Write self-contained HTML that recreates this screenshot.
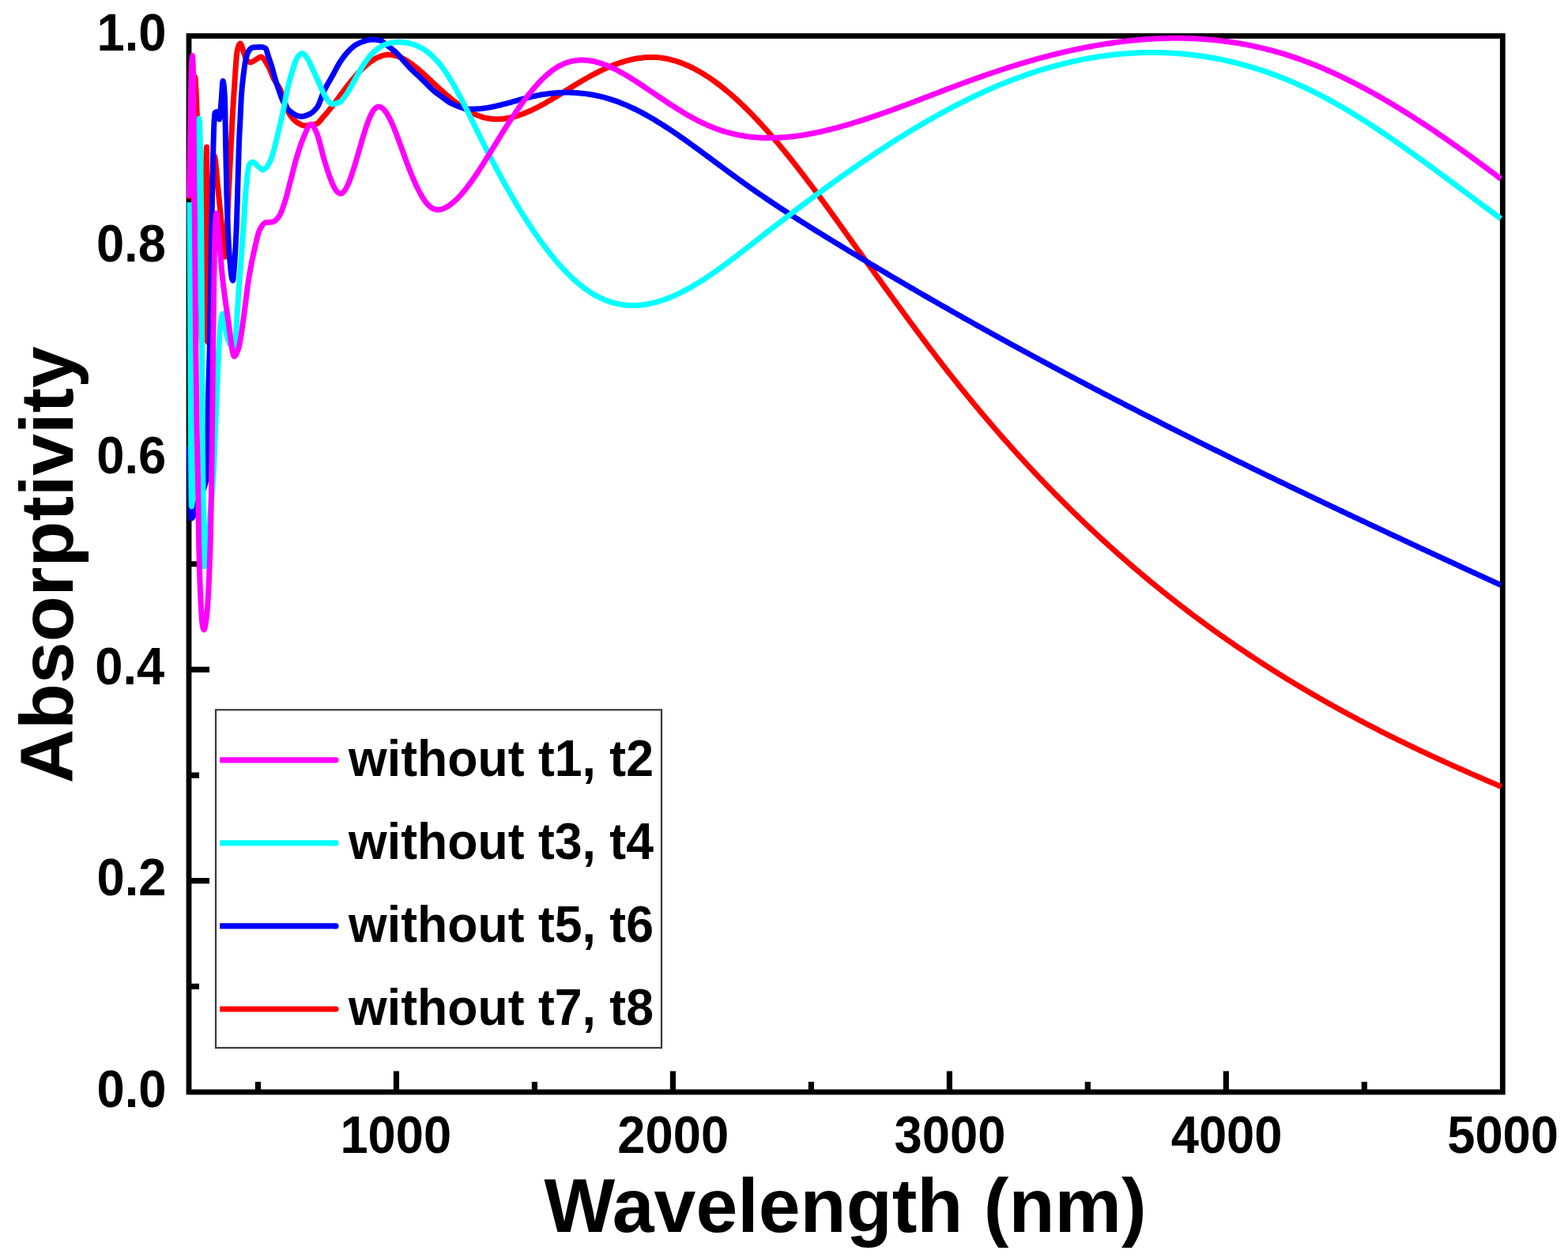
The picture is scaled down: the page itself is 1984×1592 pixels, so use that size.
<!DOCTYPE html>
<html><head><meta charset="utf-8"><title>Absorptivity vs Wavelength</title>
<style>html,body{margin:0;padding:0;background:#fff;}body{width:1984px;height:1592px;overflow:hidden;position:relative;}svg{position:absolute;left:0;top:0;display:block;}</style>
</head><body>
<svg width="1984" height="1592" viewBox="0 0 1984 1592">
<rect width="1984" height="1592" fill="#fff"/>
<rect x="239.0" y="45.5" width="1662.3" height="1336.5" fill="none" stroke="#000" stroke-width="6.8"/>
<path d="M326.49,1382.0V1369.0M501.47,1382.0V1355.5M676.45,1382.0V1369.0M851.43,1382.0V1355.5M1026.41,1382.0V1369.0M1201.38,1382.0V1355.5M1376.36,1382.0V1369.0M1551.34,1382.0V1355.5M1726.32,1382.0V1369.0M239.0,1248.35H252.0M239.0,1114.70H265.0M239.0,981.05H252.0M239.0,847.40H265.0M239.0,713.75H252.0M239.0,580.10H265.0M239.0,446.45H249.0M239.0,312.80H265.0M239.0,179.15H249.0" stroke="#000" stroke-width="7.2" fill="none"/>
<path d="M240.50,252.00C241.33,218.00 242.17,168.89 243.00,150.00C244.17,123.56 245.33,97.00 246.50,97.00C247.50,97.00 248.50,125.24 249.50,150.00C250.67,178.88 251.83,243.89 253.00,300.00C253.83,340.08 254.67,435.00 255.50,435.00C256.33,435.00 257.17,408.34 258.00,380.00C258.60,359.59 259.20,291.54 259.80,260.00C260.37,230.21 260.93,186.00 261.50,186.00C261.80,186.00 262.10,250.74 262.40,300.00C262.60,332.84 262.80,433.00 263.00,433.00C264.17,433.00 265.33,333.68 266.50,300.00C268.00,256.70 269.50,197.00 271.00,197.00C272.67,197.00 274.33,224.59 276.00,240.00C277.67,255.41 279.33,274.48 281.00,290.00C282.33,302.41 283.67,325.00 285.00,325.00C286.33,325.00 287.67,275.85 289.00,250.00C290.00,230.62 291.00,210.00 292.00,190.00C292.67,176.67 293.33,161.85 294.00,150.00C294.67,138.15 295.33,128.32 296.00,118.00C296.67,107.68 297.33,96.68 298.00,88.00C298.67,79.32 299.33,67.95 300.00,65.00C301.33,59.10 302.67,55.00 304.00,55.00C305.33,55.00 306.67,61.51 308.00,65.00C309.33,68.49 310.67,74.65 312.00,76.00C313.67,77.68 315.33,79.00 317.00,79.00C319.00,79.00 321.00,77.06 323.00,76.00C325.33,74.76 327.67,72.00 330.00,72.00C333.33,72.00 336.67,79.34 340.00,85.00C342.17,88.68 344.33,95.84 346.50,100.00C349.17,105.12 351.83,107.48 354.50,113.00C356.33,116.79 358.17,123.06 360.00,128.00C362.00,133.39 364.00,140.77 366.00,144.00C369.33,149.38 372.67,152.91 376.00,155.00C379.00,156.89 382.00,159.00 385.00,159.00C390.07,159.00 395.13,158.21 400.20,156.90C403.47,156.06 406.73,150.35 410.00,146.81C411.00,145.72 412.00,144.59 413.00,143.43C414.00,142.28 415.00,141.08 416.00,139.86C417.00,138.64 418.00,137.38 419.00,136.11C420.00,134.84 421.00,133.54 422.00,132.23C423.00,130.92 424.00,129.59 425.00,128.26C426.00,126.92 427.00,125.57 428.00,124.22C429.00,122.87 430.00,121.51 431.00,120.16C432.00,118.81 433.00,117.45 434.00,116.11C435.00,114.76 436.00,113.42 437.00,112.10C438.00,110.78 439.00,109.46 440.00,108.17C441.00,106.88 442.00,105.61 443.00,104.36C444.00,103.11 445.00,101.88 446.00,100.67C447.00,99.47 448.00,98.29 449.00,97.14C450.00,95.98 451.00,94.85 452.00,93.75C453.00,92.65 454.00,91.58 455.00,90.54C456.00,89.49 457.00,88.48 458.00,87.50C459.00,86.52 460.00,85.57 461.00,84.65C462.00,83.74 463.00,82.85 464.00,82.01C465.00,81.16 466.00,80.35 467.00,79.58C468.00,78.81 469.00,78.07 470.00,77.38C471.00,76.68 472.00,76.02 473.00,75.41C474.00,74.80 475.00,74.22 476.00,73.70C477.00,73.17 478.00,72.68 479.00,72.25C480.00,71.81 481.00,71.41 482.00,71.07C483.00,70.73 484.00,70.41 485.00,70.18C486.00,69.94 487.00,69.71 488.00,69.58C489.00,69.45 490.00,69.30 491.00,69.30C492.00,69.30 493.00,69.31 494.00,69.33C495.00,69.35 496.00,69.52 497.00,69.66C498.00,69.81 499.00,70.04 500.00,70.28C501.00,70.53 502.00,70.84 503.00,71.17C504.00,71.50 505.00,71.89 506.00,72.31C507.00,72.72 508.00,73.19 509.00,73.68C510.00,74.17 511.00,74.71 512.00,75.27C513.00,75.83 514.00,76.43 515.00,77.05C516.00,77.67 517.00,78.33 518.00,79.02C519.00,79.70 520.00,80.41 521.00,81.14C522.00,81.87 523.00,82.64 524.00,83.42C525.00,84.19 526.00,85.00 527.00,85.82C528.00,86.63 529.00,87.47 530.00,88.33C531.00,89.18 532.00,90.05 533.00,90.93C534.00,91.81 535.00,92.71 536.00,93.61C537.00,94.51 538.00,95.43 539.00,96.34C540.00,97.26 541.00,98.19 542.00,99.12C543.00,100.05 544.00,100.99 545.00,101.92C546.00,102.85 547.00,103.79 548.00,104.72C549.00,105.66 550.00,106.59 551.00,107.52C552.00,108.44 553.00,109.36 554.00,110.28C555.00,111.20 556.00,112.11 557.00,113.01C558.00,113.91 559.00,114.81 560.00,115.70C561.00,116.59 562.00,117.47 563.00,118.34C564.00,119.21 565.00,120.08 566.00,120.93C567.00,121.78 568.00,122.62 569.00,123.45C570.00,124.28 571.00,125.10 572.00,125.91C573.00,126.71 574.00,127.51 575.00,128.29C576.00,129.07 577.00,129.83 578.00,130.58C579.00,131.33 580.00,132.07 581.00,132.79C582.00,133.51 583.00,134.21 584.00,134.90C585.00,135.58 586.00,136.25 587.00,136.90C588.00,137.55 589.00,138.18 590.00,138.79C591.00,139.40 592.00,140.00 593.00,140.57C594.00,141.14 595.00,141.69 596.00,142.22C597.00,142.74 598.00,143.25 599.00,143.74C600.00,144.22 601.00,144.68 602.00,145.11C603.00,145.55 604.00,145.96 605.00,146.34C606.00,146.73 607.00,147.09 608.00,147.42C609.00,147.75 610.00,148.06 611.00,148.34C612.00,148.62 613.00,148.88 614.00,149.11C615.00,149.34 616.00,149.55 617.00,149.73C618.00,149.90 619.00,150.07 620.00,150.20C621.00,150.33 622.00,150.45 623.00,150.53C624.00,150.61 625.00,150.69 626.00,150.72C627.00,150.75 628.00,150.78 629.00,150.78C630.00,150.78 631.00,150.75 632.00,150.71C633.00,150.68 634.00,150.60 635.00,150.52C636.00,150.44 637.00,150.33 638.00,150.21C639.00,150.09 640.00,149.94 641.00,149.79C642.00,149.63 643.00,149.44 644.00,149.25C645.00,149.06 646.00,148.84 647.00,148.61C648.00,148.38 649.00,148.13 650.00,147.87C651.00,147.60 652.00,147.32 653.00,147.03C654.00,146.73 655.00,146.42 656.00,146.09C657.00,145.77 658.00,145.43 659.00,145.07C660.00,144.72 661.00,144.35 662.00,143.97C663.00,143.59 664.00,143.19 665.00,142.78C666.00,142.37 667.00,141.95 668.00,141.52C669.00,141.09 670.00,140.65 671.00,140.19C672.00,139.74 673.00,139.27 674.00,138.79C675.00,138.32 676.00,137.83 677.00,137.34C678.00,136.84 679.00,136.33 680.00,135.82C681.00,135.31 682.00,134.78 683.00,134.25C684.00,133.72 685.00,133.18 686.00,132.63C687.00,132.09 688.00,131.53 689.00,130.97C690.00,130.41 691.00,129.84 692.00,129.27C693.00,128.69 694.00,128.11 695.00,127.53C696.00,126.94 697.00,126.35 698.00,125.76C699.00,125.17 700.00,124.57 701.00,123.96C702.00,123.36 703.00,122.75 704.00,122.15C705.00,121.54 706.00,120.92 707.00,120.31C708.00,119.70 709.00,119.08 710.00,118.46C711.00,117.84 712.00,117.22 713.00,116.60C714.00,115.98 715.00,115.36 716.00,114.74C717.00,114.12 718.00,113.49 719.00,112.87C720.00,112.25 721.00,111.63 722.00,111.01C723.00,110.40 724.00,109.78 725.00,109.16C726.00,108.55 727.00,107.93 728.00,107.32C729.00,106.71 730.00,106.11 731.00,105.50C732.00,104.90 733.00,104.30 734.00,103.70C735.00,103.11 736.00,102.52 737.00,101.93C738.00,101.35 739.00,100.76 740.00,100.19C741.00,99.61 742.00,99.04 743.00,98.48C744.00,97.92 745.00,97.36 746.00,96.81C747.00,96.26 748.00,95.71 749.00,95.18C750.00,94.64 751.00,94.11 752.00,93.58C753.00,93.06 754.00,92.54 755.00,92.03C756.00,91.52 757.00,91.02 758.00,90.53C759.00,90.03 760.00,89.55 761.00,89.07C762.00,88.59 763.00,88.12 764.00,87.66C765.00,87.20 766.00,86.74 767.00,86.30C768.00,85.85 769.00,85.41 770.00,84.99C771.00,84.56 772.00,84.14 773.00,83.73C774.00,83.32 775.00,82.92 776.00,82.53C777.00,82.14 778.00,81.76 779.00,81.39C780.00,81.02 781.00,80.66 782.00,80.31C783.00,79.96 784.00,79.62 785.00,79.29C786.00,78.96 787.00,78.64 788.00,78.33C789.00,78.02 790.00,77.72 791.00,77.43C792.00,77.15 793.00,76.87 794.00,76.61C795.00,76.34 796.00,76.09 797.00,75.85C798.00,75.61 799.00,75.38 800.00,75.16C801.00,74.95 802.00,74.74 803.00,74.55C804.00,74.36 805.00,74.18 806.00,74.01C807.00,73.84 808.00,73.69 809.00,73.55C810.00,73.41 811.00,73.27 812.00,73.16C813.00,73.05 814.00,72.94 815.00,72.86C816.00,72.77 817.00,72.69 818.00,72.63C819.00,72.58 820.00,72.52 821.00,72.50C822.00,72.47 823.00,72.44 824.00,72.44C825.00,72.44 826.00,72.46 827.00,72.48C828.00,72.50 829.00,72.55 830.00,72.60C831.00,72.65 832.00,72.73 833.00,72.82C834.00,72.90 835.00,73.01 836.00,73.13C837.00,73.24 838.00,73.38 839.00,73.53C840.00,73.68 841.00,73.85 842.00,74.02C843.00,74.20 844.00,74.40 845.00,74.61C846.00,74.82 847.00,75.05 848.00,75.29C849.00,75.53 850.00,75.78 851.00,76.05C852.00,76.32 853.00,76.61 854.00,76.91C855.00,77.20 856.00,77.52 857.00,77.84C858.00,78.17 859.00,78.51 860.00,78.87C861.00,79.22 862.00,79.59 863.00,79.98C864.00,80.36 865.00,80.76 866.00,81.17C867.00,81.58 868.00,82.00 869.00,82.44C870.00,82.88 871.00,83.33 872.00,83.79C873.00,84.26 874.00,84.74 875.00,85.23C876.00,85.72 877.00,86.22 878.00,86.74C879.00,87.25 880.00,87.78 881.00,88.32C882.00,88.87 883.00,89.42 884.00,89.99C885.00,90.55 886.00,91.13 887.00,91.72C888.00,92.32 889.00,92.92 890.00,93.53C891.00,94.15 892.00,94.78 893.00,95.42C894.00,96.06 895.00,96.71 896.00,97.37C897.00,98.03 898.00,98.71 899.00,99.39C900.00,100.08 901.00,100.78 902.00,101.48C903.00,102.19 904.00,102.91 905.00,103.64C906.00,104.37 907.00,105.11 908.00,105.87C909.00,106.62 910.00,107.38 911.00,108.15C912.00,108.93 913.00,109.71 914.00,110.51C915.00,111.30 916.00,112.11 917.00,112.92C918.00,113.74 919.00,114.56 920.00,115.40C921.00,116.24 922.00,117.08 923.00,117.94C924.00,118.79 925.00,119.66 926.00,120.53C927.00,121.41 928.00,122.30 929.00,123.19C930.00,124.08 931.00,124.99 932.00,125.90C933.00,126.82 934.00,127.74 935.00,128.67C936.00,129.61 937.00,130.55 938.00,131.50C939.00,132.45 940.00,133.41 941.00,134.38C942.00,135.35 943.00,136.32 944.00,137.31C945.00,138.30 946.00,139.29 947.00,140.29C948.00,141.30 949.00,142.31 950.00,143.33C951.00,144.35 952.00,145.38 953.00,146.42C954.00,147.45 955.00,148.50 956.00,149.55C957.00,150.60 958.00,151.66 959.00,152.73C960.00,153.80 961.00,154.88 962.00,155.96C963.00,157.05 964.00,158.14 965.00,159.24C966.00,160.34 967.00,161.44 968.00,162.56C969.00,163.67 970.00,164.79 971.00,165.92C972.00,167.05 973.00,168.19 974.00,169.33C975.00,170.47 976.00,171.62 977.00,172.78C978.00,173.93 979.00,175.10 980.00,176.27C981.00,177.44 982.00,178.61 983.00,179.80C984.00,180.98 985.00,182.17 986.00,183.36C987.00,184.56 988.00,185.76 989.00,186.97C990.00,188.18 991.00,189.39 992.00,190.61C993.00,191.83 994.00,193.05 995.00,194.29C996.00,195.52 997.00,196.75 998.00,198.00C999.00,199.24 1000.00,200.49 1001.00,201.74C1002.00,202.99 1003.00,204.25 1004.00,205.52C1005.00,206.78 1006.00,208.05 1007.00,209.32C1008.00,210.60 1009.00,211.88 1010.00,213.16C1011.00,214.45 1012.00,215.73 1013.00,217.03C1014.00,218.32 1015.00,219.62 1016.00,220.92C1017.00,222.22 1018.00,223.53 1019.00,224.84C1020.00,226.15 1021.00,227.47 1022.00,228.79C1023.00,230.11 1024.00,231.43 1025.00,232.76C1026.00,234.09 1027.00,235.42 1028.00,236.76C1029.00,238.09 1030.00,239.43 1031.00,240.78C1032.00,242.12 1033.00,243.47 1034.00,244.82C1035.00,246.17 1036.00,247.52 1037.00,248.88C1038.00,250.23 1039.00,251.60 1040.00,252.96C1041.00,254.32 1042.00,255.69 1043.00,257.06C1044.00,258.43 1045.00,259.80 1046.00,261.17C1047.00,262.55 1048.00,263.93 1049.00,265.31C1050.00,266.69 1051.00,268.07 1052.00,269.45C1053.00,270.84 1054.00,272.23 1055.00,273.61C1056.00,275.00 1057.00,276.39 1058.00,277.79C1059.00,279.18 1060.00,280.57 1061.00,281.97C1062.00,283.36 1063.00,284.76 1064.00,286.15C1065.00,287.55 1066.00,288.95 1067.00,290.35C1068.00,291.74 1069.00,293.14 1070.00,294.54C1071.00,295.94 1072.00,297.34 1073.00,298.74C1074.00,300.13 1075.00,301.53 1076.00,302.93C1077.00,304.33 1078.00,305.73 1079.00,307.12C1080.00,308.52 1081.00,309.91 1082.00,311.31C1083.00,312.70 1084.00,314.09 1085.00,315.49C1086.00,316.88 1087.00,318.27 1088.00,319.66C1089.00,321.05 1090.00,322.44 1091.00,323.83C1092.00,325.22 1093.00,326.60 1094.00,327.99C1095.00,329.38 1096.00,330.77 1097.00,332.15C1098.00,333.54 1099.00,334.93 1100.00,336.31C1101.00,337.70 1102.00,339.08 1103.00,340.47C1104.00,341.85 1105.00,343.24 1106.00,344.62C1107.00,346.00 1108.00,347.39 1109.00,348.77C1110.00,350.16 1111.00,351.54 1112.00,352.92C1113.00,354.31 1114.00,355.69 1115.00,357.07C1116.00,358.45 1117.00,359.83 1118.00,361.22C1119.00,362.60 1120.00,363.98 1121.00,365.36C1122.00,366.74 1123.00,368.12 1124.00,369.50C1125.00,370.87 1126.00,372.25 1127.00,373.63C1128.00,375.01 1129.00,376.38 1130.00,377.76C1131.00,379.13 1132.00,380.51 1133.00,381.88C1134.00,383.25 1135.00,384.62 1136.00,385.99C1137.00,387.36 1138.00,388.73 1139.00,390.10C1140.00,391.47 1141.00,392.84 1142.00,394.20C1143.00,395.57 1144.00,396.93 1145.00,398.29C1146.00,399.65 1147.00,401.01 1148.00,402.37C1149.00,403.73 1150.00,405.09 1151.00,406.45C1152.00,407.80 1153.00,409.15 1154.00,410.51C1155.00,411.86 1156.00,413.21 1157.00,414.56C1158.00,415.91 1159.00,417.25 1160.00,418.60C1161.00,419.94 1162.00,421.28 1163.00,422.62C1164.00,423.96 1165.00,425.30 1166.00,426.63C1167.00,427.97 1168.00,429.30 1169.00,430.63C1170.00,431.96 1171.00,433.29 1172.00,434.62C1173.00,435.94 1174.00,437.27 1175.00,438.59C1176.00,439.91 1177.00,441.23 1178.00,442.54C1179.00,443.86 1180.00,445.17 1181.00,446.48C1182.00,447.79 1183.00,449.10 1184.00,450.40C1185.00,451.71 1186.00,453.01 1187.00,454.31C1188.00,455.60 1189.00,456.90 1190.00,458.19C1191.00,459.48 1192.00,460.77 1193.00,462.06C1194.00,463.34 1195.00,464.63 1196.00,465.91C1197.00,467.18 1198.00,468.46 1199.00,469.73C1200.00,471.01 1201.00,472.28 1202.00,473.55C1203.00,474.81 1204.00,476.08 1205.00,477.34C1206.00,478.60 1207.00,479.86 1208.00,481.11C1209.00,482.37 1210.00,483.62 1211.00,484.87C1212.00,486.12 1213.00,487.36 1214.00,488.61C1215.00,489.85 1216.00,491.09 1217.00,492.33C1218.00,493.56 1219.00,494.80 1220.00,496.03C1221.00,497.26 1222.00,498.49 1223.00,499.71C1224.00,500.94 1225.00,502.16 1226.00,503.38C1227.00,504.60 1228.00,505.82 1229.00,507.03C1230.00,508.24 1231.00,509.45 1232.00,510.66C1233.00,511.87 1234.00,513.07 1235.00,514.27C1236.00,515.47 1237.00,516.67 1238.00,517.87C1239.00,519.06 1240.00,520.25 1241.00,521.44C1242.00,522.63 1243.00,523.82 1244.00,525.00C1245.00,526.19 1246.00,527.37 1247.00,528.55C1248.00,529.73 1249.00,530.90 1250.00,532.07C1251.00,533.24 1252.00,534.41 1253.00,535.58C1254.00,536.75 1255.00,537.91 1256.00,539.07C1257.00,540.23 1258.00,541.39 1259.00,542.54C1260.00,543.70 1261.00,544.85 1262.00,546.00C1263.00,547.15 1264.00,548.30 1265.00,549.44C1266.00,550.58 1267.00,551.72 1268.00,552.86C1269.00,554.00 1270.00,555.13 1271.00,556.27C1272.00,557.40 1273.00,558.53 1274.00,559.65C1275.00,560.78 1276.00,561.91 1277.00,563.03C1278.00,564.15 1279.00,565.27 1280.00,566.38C1281.00,567.50 1282.00,568.61 1283.00,569.72C1284.00,570.83 1285.00,571.94 1286.00,573.04C1287.00,574.14 1288.00,575.25 1289.00,576.35C1290.00,577.44 1291.00,578.54 1292.00,579.63C1293.00,580.73 1294.00,581.82 1295.00,582.91C1296.00,583.99 1297.00,585.08 1298.00,586.16C1299.00,587.24 1300.00,588.32 1301.00,589.40C1302.00,590.48 1303.00,591.55 1304.00,592.62C1305.00,593.69 1306.00,594.76 1307.00,595.83C1308.00,596.90 1309.00,597.96 1310.00,599.02C1311.00,600.08 1312.00,601.14 1313.00,602.20C1314.00,603.25 1315.00,604.30 1316.00,605.35C1317.00,606.40 1318.00,607.45 1319.00,608.50C1320.00,609.54 1321.00,610.58 1322.00,611.62C1323.00,612.66 1324.00,613.70 1325.00,614.73C1326.00,615.77 1327.00,616.80 1328.00,617.83C1329.00,618.86 1330.00,619.89 1331.00,620.91C1332.00,621.93 1333.00,622.95 1334.00,623.97C1335.00,624.99 1336.00,626.01 1337.00,627.02C1338.00,628.04 1339.00,629.05 1340.00,630.05C1341.00,631.06 1342.00,632.07 1343.00,633.07C1344.00,634.08 1345.00,635.08 1346.00,636.07C1347.00,637.07 1348.00,638.07 1349.00,639.06C1350.00,640.05 1351.00,641.05 1352.00,642.03C1353.00,643.02 1354.00,644.01 1355.00,644.99C1356.00,645.97 1357.00,646.95 1358.00,647.93C1359.00,648.91 1360.00,649.88 1361.00,650.86C1362.00,651.83 1363.00,652.80 1364.00,653.77C1365.00,654.74 1366.00,655.70 1367.00,656.67C1368.00,657.63 1369.00,658.59 1370.00,659.55C1371.00,660.51 1372.00,661.46 1373.00,662.41C1374.00,663.37 1375.00,664.32 1376.00,665.27C1377.00,666.21 1378.00,667.16 1379.00,668.10C1380.00,669.05 1381.00,669.99 1382.00,670.93C1383.00,671.87 1384.00,672.80 1385.00,673.74C1386.00,674.67 1387.00,675.60 1388.00,676.53C1389.00,677.46 1390.00,678.39 1391.00,679.31C1392.00,680.23 1393.00,681.16 1394.00,682.07C1395.00,682.99 1396.00,683.91 1397.00,684.83C1398.00,685.74 1399.00,686.65 1400.00,687.56C1401.00,688.47 1402.00,689.38 1403.00,690.29C1404.00,691.19 1405.00,692.09 1406.00,692.99C1407.00,693.90 1408.00,694.79 1409.00,695.69C1410.00,696.59 1411.00,697.48 1412.00,698.37C1413.00,699.26 1414.00,700.15 1415.00,701.04C1416.00,701.92 1417.00,702.81 1418.00,703.69C1419.00,704.57 1420.00,705.45 1421.00,706.33C1422.00,707.21 1423.00,708.08 1424.00,708.95C1425.00,709.83 1426.00,710.70 1427.00,711.57C1428.00,712.44 1429.00,713.30 1430.00,714.17C1431.00,715.03 1432.00,715.89 1433.00,716.75C1434.00,717.61 1435.00,718.47 1436.00,719.32C1437.00,720.18 1438.00,721.03 1439.00,721.88C1440.00,722.73 1441.00,723.58 1442.00,724.42C1443.00,725.27 1444.00,726.11 1445.00,726.96C1446.00,727.80 1447.00,728.64 1448.00,729.47C1449.00,730.31 1450.00,731.15 1451.00,731.98C1452.00,732.81 1453.00,733.64 1454.00,734.47C1455.00,735.30 1456.00,736.13 1457.00,736.95C1458.00,737.78 1459.00,738.60 1460.00,739.42C1461.00,740.24 1462.00,741.06 1463.00,741.87C1464.00,742.69 1465.00,743.50 1466.00,744.31C1467.00,745.12 1468.00,745.93 1469.00,746.74C1470.00,747.55 1471.00,748.35 1472.00,749.16C1473.00,749.96 1474.00,750.76 1475.00,751.56C1476.00,752.36 1477.00,753.15 1478.00,753.95C1479.00,754.74 1480.00,755.54 1481.00,756.33C1482.00,757.12 1483.00,757.91 1484.00,758.69C1485.00,759.48 1486.00,760.26 1487.00,761.05C1488.00,761.83 1489.00,762.61 1490.00,763.39C1491.00,764.16 1492.00,764.94 1493.00,765.71C1494.00,766.49 1495.00,767.26 1496.00,768.03C1497.00,768.80 1498.00,769.57 1499.00,770.34C1500.00,771.10 1501.00,771.87 1502.00,772.63C1503.00,773.39 1504.00,774.15 1505.00,774.91C1506.00,775.67 1507.00,776.42 1508.00,777.18C1509.00,777.93 1510.00,778.68 1511.00,779.43C1512.00,780.18 1513.00,780.93 1514.00,781.68C1515.00,782.42 1516.00,783.17 1517.00,783.91C1518.00,784.65 1519.00,785.39 1520.00,786.13C1521.00,786.87 1522.00,787.61 1523.00,788.34C1524.00,789.08 1525.00,789.81 1526.00,790.54C1527.00,791.27 1528.00,792.00 1529.00,792.73C1530.00,793.46 1531.00,794.18 1532.00,794.90C1533.00,795.63 1534.00,796.35 1535.00,797.07C1536.00,797.79 1537.00,798.51 1538.00,799.22C1539.00,799.94 1540.00,800.65 1541.00,801.36C1542.00,802.08 1543.00,802.79 1544.00,803.49C1545.00,804.20 1546.00,804.91 1547.00,805.61C1548.00,806.32 1549.00,807.02 1550.00,807.72C1551.00,808.42 1552.00,809.12 1553.00,809.82C1554.00,810.52 1555.00,811.21 1556.00,811.91C1557.00,812.60 1558.00,813.29 1559.00,813.98C1560.00,814.67 1561.00,815.36 1562.00,816.05C1563.00,816.74 1564.00,817.42 1565.00,818.10C1566.00,818.79 1567.00,819.47 1568.00,820.15C1569.00,820.83 1570.00,821.51 1571.00,822.18C1572.00,822.86 1573.00,823.53 1574.00,824.20C1575.00,824.88 1576.00,825.55 1577.00,826.22C1578.00,826.89 1579.00,827.55 1580.00,828.22C1581.00,828.89 1582.00,829.55 1583.00,830.21C1584.00,830.87 1585.00,831.53 1586.00,832.19C1587.00,832.85 1588.00,833.51 1589.00,834.17C1590.00,834.82 1591.00,835.47 1592.00,836.13C1593.00,836.78 1594.00,837.43 1595.00,838.08C1596.00,838.73 1597.00,839.37 1598.00,840.02C1599.00,840.67 1600.00,841.31 1601.00,841.95C1602.00,842.59 1603.00,843.23 1604.00,843.87C1605.00,844.51 1606.00,845.15 1607.00,845.79C1608.00,846.42 1609.00,847.05 1610.00,847.69C1611.00,848.32 1612.00,848.95 1613.00,849.58C1614.00,850.21 1615.00,850.84 1616.00,851.46C1617.00,852.09 1618.00,852.71 1619.00,853.34C1620.00,853.96 1621.00,854.58 1622.00,855.20C1623.00,855.82 1624.00,856.44 1625.00,857.06C1626.00,857.67 1627.00,858.29 1628.00,858.90C1629.00,859.51 1630.00,860.13 1631.00,860.74C1632.00,861.35 1633.00,861.96 1634.00,862.56C1635.00,863.17 1636.00,863.78 1637.00,864.38C1638.00,864.99 1639.00,865.59 1640.00,866.19C1641.00,866.79 1642.00,867.39 1643.00,867.99C1644.00,868.59 1645.00,869.18 1646.00,869.78C1647.00,870.38 1648.00,870.97 1649.00,871.56C1650.00,872.15 1651.00,872.75 1652.00,873.34C1653.00,873.92 1654.00,874.51 1655.00,875.10C1656.00,875.69 1657.00,876.27 1658.00,876.86C1659.00,877.44 1660.00,878.02 1661.00,878.60C1662.00,879.18 1663.00,879.76 1664.00,880.34C1665.00,880.92 1666.00,881.50 1667.00,882.07C1668.00,882.65 1669.00,883.22 1670.00,883.79C1671.00,884.36 1672.00,884.94 1673.00,885.50C1674.00,886.07 1675.00,886.64 1676.00,887.21C1677.00,887.78 1678.00,888.34 1679.00,888.91C1680.00,889.47 1681.00,890.03 1682.00,890.59C1683.00,891.16 1684.00,891.72 1685.00,892.27C1686.00,892.83 1687.00,893.39 1688.00,893.95C1689.00,894.50 1690.00,895.06 1691.00,895.61C1692.00,896.16 1693.00,896.72 1694.00,897.27C1695.00,897.82 1696.00,898.37 1697.00,898.92C1698.00,899.46 1699.00,900.01 1700.00,900.56C1701.00,901.10 1702.00,901.65 1703.00,902.19C1704.00,902.73 1705.00,903.27 1706.00,903.81C1707.00,904.36 1708.00,904.89 1709.00,905.43C1710.00,905.97 1711.00,906.51 1712.00,907.04C1713.00,907.58 1714.00,908.11 1715.00,908.65C1716.00,909.18 1717.00,909.71 1718.00,910.24C1719.00,910.77 1720.00,911.30 1721.00,911.83C1722.00,912.36 1723.00,912.88 1724.00,913.41C1725.00,913.93 1726.00,914.46 1727.00,914.98C1728.00,915.51 1729.00,916.03 1730.00,916.55C1731.00,917.07 1732.00,917.59 1733.00,918.11C1734.00,918.63 1735.00,919.14 1736.00,919.66C1737.00,920.18 1738.00,920.69 1739.00,921.20C1740.00,921.72 1741.00,922.23 1742.00,922.74C1743.00,923.25 1744.00,923.77 1745.00,924.27C1746.00,924.78 1747.00,925.29 1748.00,925.80C1749.00,926.31 1750.00,926.81 1751.00,927.32C1752.00,927.82 1753.00,928.33 1754.00,928.83C1755.00,929.33 1756.00,929.83 1757.00,930.33C1758.00,930.83 1759.00,931.33 1760.00,931.83C1761.00,932.33 1762.00,932.83 1763.00,933.32C1764.00,933.82 1765.00,934.31 1766.00,934.81C1767.00,935.30 1768.00,935.80 1769.00,936.29C1770.00,936.78 1771.00,937.27 1772.00,937.76C1773.00,938.25 1774.00,938.74 1775.00,939.23C1776.00,939.72 1777.00,940.20 1778.00,940.69C1779.00,941.17 1780.00,941.66 1781.00,942.14C1782.00,942.63 1783.00,943.11 1784.00,943.59C1785.00,944.07 1786.00,944.55 1787.00,945.03C1788.00,945.51 1789.00,945.99 1790.00,946.47C1791.00,946.95 1792.00,947.42 1793.00,947.90C1794.00,948.38 1795.00,948.85 1796.00,949.33C1797.00,949.80 1798.00,950.27 1799.00,950.75C1800.00,951.22 1801.00,951.69 1802.00,952.16C1803.00,952.63 1804.00,953.10 1805.00,953.57C1806.00,954.04 1807.00,954.50 1808.00,954.97C1809.00,955.44 1810.00,955.90 1811.00,956.37C1812.00,956.83 1813.00,957.30 1814.00,957.76C1815.00,958.22 1816.00,958.68 1817.00,959.15C1818.00,959.61 1819.00,960.07 1820.00,960.53C1821.00,960.99 1822.00,961.45 1823.00,961.90C1824.00,962.36 1825.00,962.82 1826.00,963.27C1827.00,963.73 1828.00,964.19 1829.00,964.64C1830.00,965.10 1831.00,965.55 1832.00,966.00C1833.00,966.45 1834.00,966.91 1835.00,967.36C1836.00,967.81 1837.00,968.26 1838.00,968.71C1839.00,969.16 1840.00,969.61 1841.00,970.06C1842.00,970.50 1843.00,970.95 1844.00,971.40C1845.00,971.84 1846.00,972.29 1847.00,972.74C1848.00,973.18 1849.00,973.62 1850.00,974.07C1851.00,974.51 1852.00,974.95 1853.00,975.40C1854.00,975.84 1855.00,976.28 1856.00,976.72C1857.00,977.16 1858.00,977.60 1859.00,978.04C1860.00,978.48 1861.00,978.92 1862.00,979.35C1863.00,979.79 1864.00,980.23 1865.00,980.66C1866.00,981.10 1867.00,981.54 1868.00,981.97C1869.00,982.41 1870.00,982.84 1871.00,983.27C1872.00,983.71 1873.00,984.14 1874.00,984.57C1875.00,985.00 1876.00,985.43 1877.00,985.87C1878.00,986.30 1879.00,986.73 1880.00,987.16C1881.00,987.59 1882.00,988.01 1883.00,988.44C1884.00,988.87 1885.00,989.30 1886.00,989.72C1887.00,990.15 1888.00,990.58 1889.00,991.00C1890.00,991.43 1891.00,991.85 1892.00,992.28C1893.00,992.70 1894.00,993.13 1895.00,993.55C1896.00,993.97 1897.00,994.40 1898.00,994.82C1898.53,995.04 1899.07,995.27 1899.60,995.49" stroke="#ff0000" stroke-width="7" fill="none" stroke-linejoin="round"/>
<path d="M239.50,565.00C240.33,595.33 241.17,656.00 242.00,656.00C245.33,656.00 248.67,638.78 252.00,630.00C255.00,622.10 258.00,624.05 261.00,606.00C261.83,600.99 262.67,531.80 263.50,500.00C264.27,470.74 265.03,456.35 265.80,420.00C266.37,393.14 266.93,333.32 267.50,300.00C268.17,260.79 268.83,226.92 269.50,200.00C269.83,186.54 270.17,172.72 270.50,165.00C270.93,154.96 271.37,143.62 271.80,143.00C272.53,141.96 273.27,141.50 274.00,141.50C275.17,141.50 276.33,151.00 277.50,151.00C278.33,151.00 279.17,136.96 280.00,128.00C280.67,120.83 281.33,102.50 282.00,102.50C282.83,102.50 283.67,110.63 284.50,125.00C284.83,130.75 285.17,163.08 285.50,180.00C286.00,205.38 286.50,233.85 287.00,250.00C288.00,282.31 289.00,307.93 290.00,320.00C291.50,338.10 293.00,355.00 294.50,355.00C295.33,355.00 296.17,341.11 297.00,330.00C297.83,318.89 298.67,301.28 299.50,280.00C300.00,267.23 300.50,246.67 301.00,230.00C301.50,213.33 302.00,192.50 302.50,180.00C303.00,167.50 303.50,160.00 304.00,150.00C304.50,140.00 305.00,126.86 305.50,120.00C306.33,108.57 307.17,101.71 308.00,95.00C309.00,86.95 310.00,78.97 311.00,75.00C312.33,69.70 313.67,65.69 315.00,64.00C316.67,61.89 318.33,60.17 320.00,60.00C323.33,59.65 326.67,59.50 330.00,59.50C332.00,59.50 334.00,59.99 336.00,61.00C337.07,61.54 338.13,67.07 339.20,70.20C340.87,75.09 342.53,79.67 344.20,85.20C345.57,89.73 346.93,95.75 348.30,100.30C349.97,105.85 351.63,110.74 353.30,115.40C354.97,120.06 356.63,125.17 358.30,128.40C361.00,133.63 363.70,138.15 366.40,140.50C369.73,143.40 373.07,145.55 376.40,146.50C378.07,146.97 379.73,147.50 381.40,147.50C384.77,147.50 388.13,146.00 391.50,144.50C394.83,143.01 398.17,139.91 401.50,135.50C404.40,131.66 407.30,120.57 410.20,114.60C413.57,107.66 416.93,102.55 420.30,96.50C423.67,90.45 427.03,83.38 430.40,78.30C433.77,73.22 437.13,68.66 440.50,65.20C443.87,61.74 447.23,58.58 450.60,56.60C453.93,54.64 457.27,53.02 460.60,52.10C463.97,51.17 467.33,50.10 470.70,50.10C474.07,50.10 477.43,50.52 480.80,51.10C484.17,51.68 487.53,55.60 490.90,58.10C494.27,60.60 497.63,63.06 501.00,66.20C504.33,69.30 507.67,73.62 511.00,77.30C514.37,81.02 517.73,85.03 521.10,88.40C524.40,91.70 527.70,94.35 531.00,97.50C534.03,100.39 537.07,103.57 540.10,106.50C543.47,109.75 546.83,113.21 550.20,116.00C553.53,118.76 556.87,121.00 560.20,123.40C563.57,125.83 566.93,128.73 570.30,130.50C573.53,132.20 576.77,133.56 580.00,134.60C584.60,136.08 589.20,138.10 593.80,138.10C595.87,138.10 597.93,137.99 600.00,137.92C601.00,137.89 602.00,137.87 603.00,137.83C604.00,137.79 605.00,137.72 606.00,137.65C607.00,137.57 608.00,137.48 609.00,137.38C610.00,137.28 611.00,137.17 612.00,137.04C613.00,136.92 614.00,136.78 615.00,136.63C616.00,136.48 617.00,136.32 618.00,136.15C619.00,135.99 620.00,135.80 621.00,135.62C622.00,135.43 623.00,135.23 624.00,135.03C625.00,134.82 626.00,134.61 627.00,134.39C628.00,134.16 629.00,133.94 630.00,133.70C631.00,133.47 632.00,133.22 633.00,132.98C634.00,132.73 635.00,132.48 636.00,132.22C637.00,131.97 638.00,131.70 639.00,131.44C640.00,131.18 641.00,130.91 642.00,130.63C643.00,130.36 644.00,130.09 645.00,129.81C646.00,129.54 647.00,129.26 648.00,128.98C649.00,128.70 650.00,128.42 651.00,128.14C652.00,127.86 653.00,127.58 654.00,127.30C655.00,127.02 656.00,126.74 657.00,126.47C658.00,126.19 659.00,125.91 660.00,125.64C661.00,125.37 662.00,125.10 663.00,124.83C664.00,124.57 665.00,124.31 666.00,124.05C667.00,123.79 668.00,123.54 669.00,123.29C670.00,123.04 671.00,122.80 672.00,122.56C673.00,122.32 674.00,122.09 675.00,121.87C676.00,121.65 677.00,121.43 678.00,121.22C679.00,121.01 680.00,120.81 681.00,120.62C682.00,120.43 683.00,120.24 684.00,120.06C685.00,119.88 686.00,119.71 687.00,119.55C688.00,119.39 689.00,119.24 690.00,119.09C691.00,118.94 692.00,118.80 693.00,118.67C694.00,118.54 695.00,118.42 696.00,118.31C697.00,118.19 698.00,118.08 699.00,117.99C700.00,117.89 701.00,117.79 702.00,117.71C703.00,117.63 704.00,117.55 705.00,117.49C706.00,117.42 707.00,117.36 708.00,117.31C709.00,117.26 710.00,117.22 711.00,117.18C712.00,117.15 713.00,117.12 714.00,117.10C715.00,117.09 716.00,117.07 717.00,117.07C718.00,117.07 719.00,117.08 720.00,117.09C721.00,117.10 722.00,117.13 723.00,117.16C724.00,117.19 725.00,117.23 726.00,117.28C727.00,117.32 728.00,117.38 729.00,117.44C730.00,117.51 731.00,117.58 732.00,117.66C733.00,117.74 734.00,117.83 735.00,117.93C736.00,118.03 737.00,118.13 738.00,118.25C739.00,118.36 740.00,118.49 741.00,118.62C742.00,118.75 743.00,118.89 744.00,119.04C745.00,119.19 746.00,119.34 747.00,119.51C748.00,119.67 749.00,119.85 750.00,120.03C751.00,120.22 752.00,120.41 753.00,120.61C754.00,120.81 755.00,121.02 756.00,121.23C757.00,121.45 758.00,121.68 759.00,121.91C760.00,122.15 761.00,122.39 762.00,122.65C763.00,122.90 764.00,123.16 765.00,123.43C766.00,123.70 767.00,123.98 768.00,124.27C769.00,124.56 770.00,124.85 771.00,125.16C772.00,125.46 773.00,125.78 774.00,126.10C775.00,126.43 776.00,126.76 777.00,127.10C778.00,127.44 779.00,127.79 780.00,128.15C781.00,128.51 782.00,128.88 783.00,129.26C784.00,129.64 785.00,130.02 786.00,130.42C787.00,130.82 788.00,131.22 789.00,131.63C790.00,132.05 791.00,132.47 792.00,132.90C793.00,133.33 794.00,133.76 795.00,134.21C796.00,134.66 797.00,135.11 798.00,135.57C799.00,136.03 800.00,136.50 801.00,136.98C802.00,137.46 803.00,137.94 804.00,138.44C805.00,138.93 806.00,139.43 807.00,139.94C808.00,140.44 809.00,140.96 810.00,141.48C811.00,142.00 812.00,142.53 813.00,143.07C814.00,143.60 815.00,144.14 816.00,144.69C817.00,145.24 818.00,145.80 819.00,146.36C820.00,146.92 821.00,147.49 822.00,148.06C823.00,148.63 824.00,149.22 825.00,149.80C826.00,150.39 827.00,150.98 828.00,151.58C829.00,152.17 830.00,152.78 831.00,153.39C832.00,153.99 833.00,154.61 834.00,155.23C835.00,155.85 836.00,156.47 837.00,157.10C838.00,157.73 839.00,158.37 840.00,159.01C841.00,159.65 842.00,160.29 843.00,160.94C844.00,161.59 845.00,162.24 846.00,162.90C847.00,163.56 848.00,164.22 849.00,164.89C850.00,165.55 851.00,166.22 852.00,166.90C853.00,167.57 854.00,168.25 855.00,168.93C856.00,169.61 857.00,170.30 858.00,170.99C859.00,171.68 860.00,172.37 861.00,173.07C862.00,173.76 863.00,174.46 864.00,175.16C865.00,175.87 866.00,176.57 867.00,177.28C868.00,177.99 869.00,178.70 870.00,179.41C871.00,180.13 872.00,180.84 873.00,181.56C874.00,182.28 875.00,183.00 876.00,183.72C877.00,184.45 878.00,185.17 879.00,185.90C880.00,186.63 881.00,187.36 882.00,188.09C883.00,188.82 884.00,189.55 885.00,190.29C886.00,191.02 887.00,191.76 888.00,192.49C889.00,193.23 890.00,193.97 891.00,194.71C892.00,195.45 893.00,196.19 894.00,196.93C895.00,197.67 896.00,198.41 897.00,199.15C898.00,199.90 899.00,200.64 900.00,201.38C901.00,202.13 902.00,202.87 903.00,203.62C904.00,204.36 905.00,205.10 906.00,205.85C907.00,206.59 908.00,207.34 909.00,208.08C910.00,208.83 911.00,209.57 912.00,210.31C913.00,211.06 914.00,211.80 915.00,212.54C916.00,213.29 917.00,214.03 918.00,214.77C919.00,215.51 920.00,216.25 921.00,216.99C922.00,217.73 923.00,218.46 924.00,219.20C925.00,219.94 926.00,220.67 927.00,221.40C928.00,222.14 929.00,222.87 930.00,223.60C931.00,224.33 932.00,225.06 933.00,225.78C934.00,226.51 935.00,227.23 936.00,227.96C937.00,228.68 938.00,229.40 939.00,230.11C940.00,230.83 941.00,231.55 942.00,232.26C943.00,232.97 944.00,233.68 945.00,234.39C946.00,235.10 947.00,235.81 948.00,236.51C949.00,237.21 950.00,237.92 951.00,238.62C952.00,239.32 953.00,240.01 954.00,240.71C955.00,241.40 956.00,242.10 957.00,242.79C958.00,243.48 959.00,244.17 960.00,244.86C961.00,245.55 962.00,246.23 963.00,246.92C964.00,247.60 965.00,248.28 966.00,248.96C967.00,249.64 968.00,250.32 969.00,251.00C970.00,251.67 971.00,252.35 972.00,253.02C973.00,253.69 974.00,254.36 975.00,255.03C976.00,255.70 977.00,256.37 978.00,257.03C979.00,257.70 980.00,258.36 981.00,259.03C982.00,259.69 983.00,260.35 984.00,261.01C985.00,261.67 986.00,262.33 987.00,262.98C988.00,263.64 989.00,264.30 990.00,264.95C991.00,265.60 992.00,266.25 993.00,266.90C994.00,267.56 995.00,268.20 996.00,268.85C997.00,269.50 998.00,270.15 999.00,270.79C1000.00,271.44 1001.00,272.08 1002.00,272.72C1003.00,273.36 1004.00,274.01 1005.00,274.65C1006.00,275.29 1007.00,275.92 1008.00,276.56C1009.00,277.20 1010.00,277.83 1011.00,278.47C1012.00,279.11 1013.00,279.74 1014.00,280.37C1015.00,281.01 1016.00,281.64 1017.00,282.27C1018.00,282.90 1019.00,283.53 1020.00,284.16C1021.00,284.79 1022.00,285.41 1023.00,286.04C1024.00,286.67 1025.00,287.29 1026.00,287.92C1027.00,288.54 1028.00,289.17 1029.00,289.79C1030.00,290.41 1031.00,291.04 1032.00,291.66C1033.00,292.28 1034.00,292.90 1035.00,293.52C1036.00,294.14 1037.00,294.76 1038.00,295.38C1039.00,296.00 1040.00,296.61 1041.00,297.23C1042.00,297.85 1043.00,298.47 1044.00,299.08C1045.00,299.70 1046.00,300.31 1047.00,300.93C1048.00,301.54 1049.00,302.16 1050.00,302.77C1051.00,303.39 1052.00,304.00 1053.00,304.61C1054.00,305.22 1055.00,305.84 1056.00,306.45C1057.00,307.06 1058.00,307.67 1059.00,308.28C1060.00,308.89 1061.00,309.50 1062.00,310.11C1063.00,310.72 1064.00,311.33 1065.00,311.94C1066.00,312.55 1067.00,313.16 1068.00,313.77C1069.00,314.37 1070.00,314.98 1071.00,315.59C1072.00,316.20 1073.00,316.80 1074.00,317.41C1075.00,318.01 1076.00,318.62 1077.00,319.23C1078.00,319.83 1079.00,320.43 1080.00,321.04C1081.00,321.64 1082.00,322.25 1083.00,322.85C1084.00,323.45 1085.00,324.06 1086.00,324.66C1087.00,325.26 1088.00,325.86 1089.00,326.46C1090.00,327.06 1091.00,327.66 1092.00,328.26C1093.00,328.86 1094.00,329.46 1095.00,330.06C1096.00,330.66 1097.00,331.26 1098.00,331.86C1099.00,332.46 1100.00,333.06 1101.00,333.65C1102.00,334.25 1103.00,334.85 1104.00,335.45C1105.00,336.04 1106.00,336.64 1107.00,337.23C1108.00,337.83 1109.00,338.42 1110.00,339.02C1111.00,339.61 1112.00,340.21 1113.00,340.80C1114.00,341.39 1115.00,341.99 1116.00,342.58C1117.00,343.17 1118.00,343.77 1119.00,344.36C1120.00,344.95 1121.00,345.54 1122.00,346.13C1123.00,346.72 1124.00,347.31 1125.00,347.90C1126.00,348.49 1127.00,349.08 1128.00,349.67C1129.00,350.26 1130.00,350.85 1131.00,351.44C1132.00,352.03 1133.00,352.61 1134.00,353.20C1135.00,353.79 1136.00,354.38 1137.00,354.96C1138.00,355.55 1139.00,356.13 1140.00,356.72C1141.00,357.31 1142.00,357.89 1143.00,358.48C1144.00,359.06 1145.00,359.64 1146.00,360.23C1147.00,360.81 1148.00,361.40 1149.00,361.98C1150.00,362.56 1151.00,363.14 1152.00,363.73C1153.00,364.31 1154.00,364.89 1155.00,365.47C1156.00,366.05 1157.00,366.63 1158.00,367.21C1159.00,367.79 1160.00,368.37 1161.00,368.95C1162.00,369.53 1163.00,370.11 1164.00,370.69C1165.00,371.27 1166.00,371.84 1167.00,372.42C1168.00,373.00 1169.00,373.58 1170.00,374.15C1171.00,374.73 1172.00,375.31 1173.00,375.88C1174.00,376.46 1175.00,377.03 1176.00,377.61C1177.00,378.18 1178.00,378.76 1179.00,379.33C1180.00,379.91 1181.00,380.48 1182.00,381.05C1183.00,381.63 1184.00,382.20 1185.00,382.77C1186.00,383.34 1187.00,383.92 1188.00,384.49C1189.00,385.06 1190.00,385.63 1191.00,386.20C1192.00,386.77 1193.00,387.34 1194.00,387.91C1195.00,388.48 1196.00,389.05 1197.00,389.62C1198.00,390.19 1199.00,390.76 1200.00,391.33C1201.00,391.90 1202.00,392.46 1203.00,393.03C1204.00,393.60 1205.00,394.16 1206.00,394.73C1207.00,395.30 1208.00,395.86 1209.00,396.43C1210.00,397.00 1211.00,397.56 1212.00,398.13C1213.00,398.69 1214.00,399.26 1215.00,399.82C1216.00,400.38 1217.00,400.95 1218.00,401.51C1219.00,402.07 1220.00,402.64 1221.00,403.20C1222.00,403.76 1223.00,404.32 1224.00,404.89C1225.00,405.45 1226.00,406.01 1227.00,406.57C1228.00,407.13 1229.00,407.69 1230.00,408.25C1231.00,408.81 1232.00,409.37 1233.00,409.93C1234.00,410.49 1235.00,411.05 1236.00,411.61C1237.00,412.16 1238.00,412.72 1239.00,413.28C1240.00,413.84 1241.00,414.40 1242.00,414.95C1243.00,415.51 1244.00,416.07 1245.00,416.62C1246.00,417.18 1247.00,417.73 1248.00,418.29C1249.00,418.84 1250.00,419.40 1251.00,419.95C1252.00,420.51 1253.00,421.06 1254.00,421.62C1255.00,422.17 1256.00,422.72 1257.00,423.28C1258.00,423.83 1259.00,424.38 1260.00,424.93C1261.00,425.49 1262.00,426.04 1263.00,426.59C1264.00,427.14 1265.00,427.69 1266.00,428.24C1267.00,428.79 1268.00,429.34 1269.00,429.89C1270.00,430.44 1271.00,430.99 1272.00,431.54C1273.00,432.09 1274.00,432.64 1275.00,433.19C1276.00,433.74 1277.00,434.28 1278.00,434.83C1279.00,435.38 1280.00,435.93 1281.00,436.47C1282.00,437.02 1283.00,437.57 1284.00,438.11C1285.00,438.66 1286.00,439.21 1287.00,439.75C1288.00,440.30 1289.00,440.84 1290.00,441.39C1291.00,441.93 1292.00,442.47 1293.00,443.02C1294.00,443.56 1295.00,444.11 1296.00,444.65C1297.00,445.19 1298.00,445.74 1299.00,446.28C1300.00,446.82 1301.00,447.36 1302.00,447.90C1303.00,448.45 1304.00,448.99 1305.00,449.53C1306.00,450.07 1307.00,450.61 1308.00,451.15C1309.00,451.69 1310.00,452.23 1311.00,452.77C1312.00,453.31 1313.00,453.85 1314.00,454.39C1315.00,454.93 1316.00,455.46 1317.00,456.00C1318.00,456.54 1319.00,457.08 1320.00,457.62C1321.00,458.15 1322.00,458.69 1323.00,459.23C1324.00,459.76 1325.00,460.30 1326.00,460.84C1327.00,461.37 1328.00,461.91 1329.00,462.44C1330.00,462.98 1331.00,463.51 1332.00,464.05C1333.00,464.58 1334.00,465.12 1335.00,465.65C1336.00,466.18 1337.00,466.72 1338.00,467.25C1339.00,467.78 1340.00,468.32 1341.00,468.85C1342.00,469.38 1343.00,469.91 1344.00,470.45C1345.00,470.98 1346.00,471.51 1347.00,472.04C1348.00,472.57 1349.00,473.10 1350.00,473.63C1351.00,474.16 1352.00,474.69 1353.00,475.22C1354.00,475.75 1355.00,476.28 1356.00,476.81C1357.00,477.34 1358.00,477.87 1359.00,478.40C1360.00,478.93 1361.00,479.45 1362.00,479.98C1363.00,480.51 1364.00,481.04 1365.00,481.57C1366.00,482.09 1367.00,482.62 1368.00,483.15C1369.00,483.67 1370.00,484.20 1371.00,484.72C1372.00,485.25 1373.00,485.78 1374.00,486.30C1375.00,486.83 1376.00,487.35 1377.00,487.87C1378.00,488.40 1379.00,488.92 1380.00,489.45C1381.00,489.97 1382.00,490.49 1383.00,491.02C1384.00,491.54 1385.00,492.06 1386.00,492.59C1387.00,493.11 1388.00,493.63 1389.00,494.15C1390.00,494.68 1391.00,495.20 1392.00,495.72C1393.00,496.24 1394.00,496.76 1395.00,497.28C1396.00,497.80 1397.00,498.32 1398.00,498.84C1399.00,499.36 1400.00,499.88 1401.00,500.40C1402.00,500.92 1403.00,501.44 1404.00,501.96C1405.00,502.48 1406.00,503.00 1407.00,503.51C1408.00,504.03 1409.00,504.55 1410.00,505.07C1411.00,505.59 1412.00,506.10 1413.00,506.62C1414.00,507.14 1415.00,507.65 1416.00,508.17C1417.00,508.69 1418.00,509.20 1419.00,509.72C1420.00,510.23 1421.00,510.75 1422.00,511.26C1423.00,511.78 1424.00,512.29 1425.00,512.81C1426.00,513.32 1427.00,513.84 1428.00,514.35C1429.00,514.86 1430.00,515.38 1431.00,515.89C1432.00,516.41 1433.00,516.92 1434.00,517.43C1435.00,517.94 1436.00,518.46 1437.00,518.97C1438.00,519.48 1439.00,519.99 1440.00,520.50C1441.00,521.02 1442.00,521.53 1443.00,522.04C1444.00,522.55 1445.00,523.06 1446.00,523.57C1447.00,524.08 1448.00,524.59 1449.00,525.10C1450.00,525.61 1451.00,526.12 1452.00,526.63C1453.00,527.14 1454.00,527.65 1455.00,528.16C1456.00,528.66 1457.00,529.17 1458.00,529.68C1459.00,530.19 1460.00,530.70 1461.00,531.20C1462.00,531.71 1463.00,532.22 1464.00,532.73C1465.00,533.23 1466.00,533.74 1467.00,534.25C1468.00,534.75 1469.00,535.26 1470.00,535.76C1471.00,536.27 1472.00,536.78 1473.00,537.28C1474.00,537.79 1475.00,538.29 1476.00,538.80C1477.00,539.30 1478.00,539.81 1479.00,540.31C1480.00,540.81 1481.00,541.32 1482.00,541.82C1483.00,542.33 1484.00,542.83 1485.00,543.33C1486.00,543.84 1487.00,544.34 1488.00,544.84C1489.00,545.34 1490.00,545.85 1491.00,546.35C1492.00,546.85 1493.00,547.35 1494.00,547.85C1495.00,548.36 1496.00,548.86 1497.00,549.36C1498.00,549.86 1499.00,550.36 1500.00,550.86C1501.00,551.36 1502.00,551.86 1503.00,552.36C1504.00,552.86 1505.00,553.36 1506.00,553.86C1507.00,554.36 1508.00,554.86 1509.00,555.36C1510.00,555.86 1511.00,556.36 1512.00,556.85C1513.00,557.35 1514.00,557.85 1515.00,558.35C1516.00,558.85 1517.00,559.34 1518.00,559.84C1519.00,560.34 1520.00,560.84 1521.00,561.33C1522.00,561.83 1523.00,562.33 1524.00,562.82C1525.00,563.32 1526.00,563.82 1527.00,564.31C1528.00,564.81 1529.00,565.30 1530.00,565.80C1531.00,566.29 1532.00,566.79 1533.00,567.28C1534.00,567.78 1535.00,568.27 1536.00,568.77C1537.00,569.26 1538.00,569.76 1539.00,570.25C1540.00,570.75 1541.00,571.24 1542.00,571.73C1543.00,572.23 1544.00,572.72 1545.00,573.21C1546.00,573.71 1547.00,574.20 1548.00,574.69C1549.00,575.18 1550.00,575.68 1551.00,576.17C1552.00,576.66 1553.00,577.15 1554.00,577.64C1555.00,578.14 1556.00,578.63 1557.00,579.12C1558.00,579.61 1559.00,580.10 1560.00,580.59C1561.00,581.08 1562.00,581.57 1563.00,582.06C1564.00,582.55 1565.00,583.04 1566.00,583.53C1567.00,584.02 1568.00,584.51 1569.00,585.00C1570.00,585.49 1571.00,585.98 1572.00,586.47C1573.00,586.96 1574.00,587.45 1575.00,587.93C1576.00,588.42 1577.00,588.91 1578.00,589.40C1579.00,589.89 1580.00,590.38 1581.00,590.86C1582.00,591.35 1583.00,591.84 1584.00,592.32C1585.00,592.81 1586.00,593.30 1587.00,593.79C1588.00,594.27 1589.00,594.76 1590.00,595.25C1591.00,595.73 1592.00,596.22 1593.00,596.70C1594.00,597.19 1595.00,597.67 1596.00,598.16C1597.00,598.65 1598.00,599.13 1599.00,599.62C1600.00,600.10 1601.00,600.59 1602.00,601.07C1603.00,601.55 1604.00,602.04 1605.00,602.52C1606.00,603.01 1607.00,603.49 1608.00,603.98C1609.00,604.46 1610.00,604.94 1611.00,605.43C1612.00,605.91 1613.00,606.39 1614.00,606.88C1615.00,607.36 1616.00,607.84 1617.00,608.32C1618.00,608.81 1619.00,609.29 1620.00,609.77C1621.00,610.25 1622.00,610.74 1623.00,611.22C1624.00,611.70 1625.00,612.18 1626.00,612.66C1627.00,613.14 1628.00,613.62 1629.00,614.11C1630.00,614.59 1631.00,615.07 1632.00,615.55C1633.00,616.03 1634.00,616.51 1635.00,616.99C1636.00,617.47 1637.00,617.95 1638.00,618.43C1639.00,618.91 1640.00,619.39 1641.00,619.87C1642.00,620.35 1643.00,620.83 1644.00,621.31C1645.00,621.78 1646.00,622.26 1647.00,622.74C1648.00,623.22 1649.00,623.70 1650.00,624.18C1651.00,624.66 1652.00,625.13 1653.00,625.61C1654.00,626.09 1655.00,626.57 1656.00,627.05C1657.00,627.52 1658.00,628.00 1659.00,628.48C1660.00,628.96 1661.00,629.43 1662.00,629.91C1663.00,630.39 1664.00,630.86 1665.00,631.34C1666.00,631.82 1667.00,632.29 1668.00,632.77C1669.00,633.25 1670.00,633.72 1671.00,634.20C1672.00,634.67 1673.00,635.15 1674.00,635.62C1675.00,636.10 1676.00,636.58 1677.00,637.05C1678.00,637.53 1679.00,638.00 1680.00,638.48C1681.00,638.95 1682.00,639.42 1683.00,639.90C1684.00,640.37 1685.00,640.85 1686.00,641.32C1687.00,641.80 1688.00,642.27 1689.00,642.74C1690.00,643.22 1691.00,643.69 1692.00,644.17C1693.00,644.64 1694.00,645.11 1695.00,645.59C1696.00,646.06 1697.00,646.53 1698.00,647.01C1699.00,647.48 1700.00,647.95 1701.00,648.42C1702.00,648.90 1703.00,649.37 1704.00,649.84C1705.00,650.31 1706.00,650.79 1707.00,651.26C1708.00,651.73 1709.00,652.20 1710.00,652.67C1711.00,653.14 1712.00,653.62 1713.00,654.09C1714.00,654.56 1715.00,655.03 1716.00,655.50C1717.00,655.97 1718.00,656.44 1719.00,656.91C1720.00,657.38 1721.00,657.86 1722.00,658.33C1723.00,658.80 1724.00,659.27 1725.00,659.74C1726.00,660.21 1727.00,660.68 1728.00,661.15C1729.00,661.62 1730.00,662.09 1731.00,662.56C1732.00,663.03 1733.00,663.50 1734.00,663.96C1735.00,664.43 1736.00,664.90 1737.00,665.37C1738.00,665.84 1739.00,666.31 1740.00,666.78C1741.00,667.25 1742.00,667.72 1743.00,668.19C1744.00,668.65 1745.00,669.12 1746.00,669.59C1747.00,670.06 1748.00,670.53 1749.00,670.99C1750.00,671.46 1751.00,671.93 1752.00,672.40C1753.00,672.87 1754.00,673.33 1755.00,673.80C1756.00,674.27 1757.00,674.74 1758.00,675.20C1759.00,675.67 1760.00,676.14 1761.00,676.60C1762.00,677.07 1763.00,677.54 1764.00,678.01C1765.00,678.47 1766.00,678.94 1767.00,679.41C1768.00,679.87 1769.00,680.34 1770.00,680.80C1771.00,681.27 1772.00,681.74 1773.00,682.20C1774.00,682.67 1775.00,683.13 1776.00,683.60C1777.00,684.07 1778.00,684.53 1779.00,685.00C1780.00,685.46 1781.00,685.93 1782.00,686.39C1783.00,686.86 1784.00,687.32 1785.00,687.79C1786.00,688.25 1787.00,688.72 1788.00,689.18C1789.00,689.65 1790.00,690.11 1791.00,690.58C1792.00,691.04 1793.00,691.51 1794.00,691.97C1795.00,692.44 1796.00,692.90 1797.00,693.36C1798.00,693.83 1799.00,694.29 1800.00,694.76C1801.00,695.22 1802.00,695.68 1803.00,696.15C1804.00,696.61 1805.00,697.08 1806.00,697.54C1807.00,698.00 1808.00,698.47 1809.00,698.93C1810.00,699.39 1811.00,699.86 1812.00,700.32C1813.00,700.78 1814.00,701.25 1815.00,701.71C1816.00,702.17 1817.00,702.64 1818.00,703.10C1819.00,703.56 1820.00,704.02 1821.00,704.49C1822.00,704.95 1823.00,705.41 1824.00,705.87C1825.00,706.34 1826.00,706.80 1827.00,707.26C1828.00,707.72 1829.00,708.19 1830.00,708.65C1831.00,709.11 1832.00,709.57 1833.00,710.03C1834.00,710.49 1835.00,710.96 1836.00,711.42C1837.00,711.88 1838.00,712.34 1839.00,712.80C1840.00,713.26 1841.00,713.73 1842.00,714.19C1843.00,714.65 1844.00,715.11 1845.00,715.57C1846.00,716.03 1847.00,716.49 1848.00,716.95C1849.00,717.42 1850.00,717.88 1851.00,718.34C1852.00,718.80 1853.00,719.26 1854.00,719.72C1855.00,720.18 1856.00,720.64 1857.00,721.10C1858.00,721.56 1859.00,722.02 1860.00,722.48C1861.00,722.94 1862.00,723.40 1863.00,723.86C1864.00,724.33 1865.00,724.79 1866.00,725.25C1867.00,725.71 1868.00,726.17 1869.00,726.63C1870.00,727.09 1871.00,727.55 1872.00,728.01C1873.00,728.47 1874.00,728.93 1875.00,729.39C1876.00,729.84 1877.00,730.30 1878.00,730.76C1879.00,731.22 1880.00,731.68 1881.00,732.14C1882.00,732.60 1883.00,733.06 1884.00,733.52C1885.00,733.98 1886.00,734.44 1887.00,734.90C1888.00,735.36 1889.00,735.82 1890.00,736.28C1891.00,736.74 1892.00,737.19 1893.00,737.65C1894.00,738.11 1895.00,738.57 1896.00,739.03C1897.00,739.49 1898.00,739.95 1899.00,740.41" stroke="#0000ff" stroke-width="7" fill="none" stroke-linejoin="round"/>
<path d="M240.00,256.00C240.23,304.00 240.47,352.66 240.70,400.00C240.97,454.10 241.23,528.76 241.50,560.00C241.83,599.05 242.17,641.00 242.50,641.00C243.50,641.00 244.50,597.06 245.50,560.00C246.17,535.29 246.83,493.84 247.50,450.00C248.00,417.12 248.50,376.81 249.00,330.00C249.33,298.79 249.67,238.78 250.00,220.00C250.67,182.44 251.33,150.00 252.00,150.00C252.60,150.00 253.20,172.43 253.80,200.00C254.13,215.32 254.47,259.70 254.80,300.00C255.07,332.24 255.33,370.79 255.60,420.00C255.80,456.90 256.00,535.92 256.20,560.00C256.60,608.15 257.00,623.15 257.40,650.00C257.77,674.61 258.13,717.00 258.50,717.00C259.67,717.00 260.83,700.13 262.00,690.00C263.33,678.42 264.67,664.81 266.00,650.00C267.33,635.19 268.67,621.69 270.00,600.00C271.17,581.02 272.33,546.95 273.50,520.00C274.50,496.90 275.50,468.88 276.50,450.00C277.33,434.27 278.17,416.72 279.00,410.00C279.80,403.55 280.60,397.00 281.40,397.00C282.27,397.00 283.13,404.05 284.00,408.00C285.33,414.08 286.67,423.86 288.00,428.00C289.33,432.14 290.67,435.61 292.00,437.00C293.50,438.56 295.00,440.00 296.50,440.00C297.67,440.00 298.83,415.79 300.00,400.00C300.67,390.97 301.33,377.50 302.00,368.00C303.00,353.75 304.00,343.17 305.00,330.00C305.90,318.14 306.80,305.81 307.70,293.00C308.97,274.98 310.23,249.25 311.50,236.50C312.73,224.09 313.97,209.91 315.20,208.30C316.80,206.21 318.40,205.00 320.00,205.00C322.00,205.00 324.00,208.38 326.00,210.00C328.07,211.68 330.13,214.90 332.20,214.90C333.80,214.90 335.40,213.42 337.00,212.00C338.53,210.64 340.07,207.68 341.60,204.50C343.07,201.46 344.53,196.86 346.00,192.00C347.77,186.15 349.53,178.04 351.30,170.70C353.63,161.01 355.97,151.35 358.30,140.50C360.30,131.20 362.30,118.75 364.30,110.40C366.67,100.51 369.03,92.24 371.40,85.20C373.07,80.24 374.73,74.21 376.40,72.20C378.40,69.79 380.40,67.60 382.40,67.60C384.43,67.60 386.47,70.64 388.50,73.20C390.50,75.72 392.50,81.05 394.50,85.20C396.83,90.04 399.17,95.14 401.50,100.30C403.87,105.53 406.23,111.71 408.60,116.40C410.40,119.97 412.20,123.82 414.00,126.00C416.10,128.54 418.20,131.70 420.30,131.70C423.53,131.70 426.77,130.72 430.00,129.29C431.00,128.85 432.00,127.44 433.00,126.35C434.00,125.26 435.00,123.98 436.00,122.65C437.00,121.32 438.00,119.84 439.00,118.33C440.00,116.81 441.00,115.17 442.00,113.51C443.00,111.85 444.00,110.11 445.00,108.35C446.00,106.59 447.00,104.77 448.00,102.97C449.00,101.16 450.00,99.31 451.00,97.50C452.00,95.69 453.00,93.86 454.00,92.09C455.00,90.31 456.00,88.55 457.00,86.86C458.00,85.17 459.00,83.51 460.00,81.95C461.00,80.40 462.00,78.90 463.00,77.49C464.00,76.09 465.00,74.75 466.00,73.49C467.00,72.24 468.00,71.05 469.00,69.94C470.00,68.83 471.00,67.78 472.00,66.80C473.00,65.83 474.00,64.91 475.00,64.06C476.00,63.21 477.00,62.42 478.00,61.69C479.00,60.97 480.00,60.29 481.00,59.67C482.00,59.06 483.00,58.49 484.00,57.98C485.00,57.47 486.00,57.00 487.00,56.59C488.00,56.18 489.00,55.81 490.00,55.49C491.00,55.17 492.00,54.87 493.00,54.64C494.00,54.40 495.00,54.18 496.00,54.02C497.00,53.86 498.00,53.71 499.00,53.62C500.00,53.52 501.00,53.43 502.00,53.40C503.00,53.37 504.00,53.35 505.00,53.35C506.00,53.35 507.00,53.40 508.00,53.44C509.00,53.48 510.00,53.58 511.00,53.67C512.00,53.77 513.00,53.91 514.00,54.06C515.00,54.21 516.00,54.39 517.00,54.60C518.00,54.81 519.00,55.05 520.00,55.31C521.00,55.58 522.00,55.88 523.00,56.21C524.00,56.53 525.00,56.90 526.00,57.29C527.00,57.68 528.00,58.11 529.00,58.57C530.00,59.02 531.00,59.52 532.00,60.05C533.00,60.58 534.00,61.15 535.00,61.76C536.00,62.36 537.00,63.01 538.00,63.69C539.00,64.37 540.00,65.10 541.00,65.86C542.00,66.62 543.00,67.43 544.00,68.27C545.00,69.12 546.00,70.01 547.00,70.94C548.00,71.88 549.00,72.86 550.00,73.88C551.00,74.90 552.00,75.98 553.00,77.09C554.00,78.21 555.00,79.38 556.00,80.59C557.00,81.80 558.00,83.07 559.00,84.38C560.00,85.69 561.00,87.06 562.00,88.47C563.00,89.89 564.00,91.36 565.00,92.86C566.00,94.37 567.00,95.93 568.00,97.52C569.00,99.11 570.00,100.75 571.00,102.43C572.00,104.10 573.00,105.81 574.00,107.56C575.00,109.30 576.00,111.08 577.00,112.89C578.00,114.70 579.00,116.54 580.00,118.40C581.00,120.26 582.00,122.16 583.00,124.07C584.00,125.98 585.00,127.91 586.00,129.87C587.00,131.82 588.00,133.79 589.00,135.77C590.00,137.76 591.00,139.76 592.00,141.77C593.00,143.77 594.00,145.80 595.00,147.82C596.00,149.85 597.00,151.88 598.00,153.92C599.00,155.95 600.00,157.99 601.00,160.03C602.00,162.07 603.00,164.11 604.00,166.14C605.00,168.17 606.00,170.20 607.00,172.21C608.00,174.23 609.00,176.24 610.00,178.24C611.00,180.24 612.00,182.23 613.00,184.21C614.00,186.19 615.00,188.16 616.00,190.12C617.00,192.08 618.00,194.02 619.00,195.96C620.00,197.90 621.00,199.83 622.00,201.75C623.00,203.67 624.00,205.57 625.00,207.47C626.00,209.37 627.00,211.25 628.00,213.12C629.00,215.00 630.00,216.86 631.00,218.71C632.00,220.57 633.00,222.41 634.00,224.24C635.00,226.06 636.00,227.88 637.00,229.69C638.00,231.49 639.00,233.29 640.00,235.07C641.00,236.85 642.00,238.62 643.00,240.38C644.00,242.14 645.00,243.88 646.00,245.62C647.00,247.35 648.00,249.07 649.00,250.78C650.00,252.49 651.00,254.18 652.00,255.87C653.00,257.55 654.00,259.22 655.00,260.88C656.00,262.53 657.00,264.18 658.00,265.81C659.00,267.44 660.00,269.06 661.00,270.66C662.00,272.26 663.00,273.85 664.00,275.43C665.00,277.01 666.00,278.57 667.00,280.12C668.00,281.67 669.00,283.20 670.00,284.72C671.00,286.24 672.00,287.75 673.00,289.24C674.00,290.73 675.00,292.21 676.00,293.67C677.00,295.14 678.00,296.58 679.00,298.02C680.00,299.45 681.00,300.87 682.00,302.27C683.00,303.67 684.00,305.06 685.00,306.44C686.00,307.81 687.00,309.17 688.00,310.51C689.00,311.85 690.00,313.18 691.00,314.49C692.00,315.80 693.00,317.09 694.00,318.37C695.00,319.65 696.00,320.91 697.00,322.16C698.00,323.41 699.00,324.64 700.00,325.85C701.00,327.07 702.00,328.26 703.00,329.45C704.00,330.63 705.00,331.79 706.00,332.94C707.00,334.08 708.00,335.22 709.00,336.33C710.00,337.44 711.00,338.54 712.00,339.62C713.00,340.70 714.00,341.76 715.00,342.80C716.00,343.85 717.00,344.87 718.00,345.88C719.00,346.89 720.00,347.88 721.00,348.85C722.00,349.83 723.00,350.78 724.00,351.72C725.00,352.66 726.00,353.57 727.00,354.47C728.00,355.37 729.00,356.26 730.00,357.12C731.00,357.98 732.00,358.83 733.00,359.65C734.00,360.48 735.00,361.28 736.00,362.07C737.00,362.86 738.00,363.63 739.00,364.37C740.00,365.12 741.00,365.85 742.00,366.56C743.00,367.27 744.00,367.96 745.00,368.63C746.00,369.30 747.00,369.96 748.00,370.59C749.00,371.22 750.00,371.83 751.00,372.42C752.00,373.01 753.00,373.58 754.00,374.13C755.00,374.68 756.00,375.21 757.00,375.72C758.00,376.23 759.00,376.72 760.00,377.19C761.00,377.66 762.00,378.12 763.00,378.55C764.00,378.98 765.00,379.40 766.00,379.79C767.00,380.19 768.00,380.57 769.00,380.93C770.00,381.28 771.00,381.63 772.00,381.95C773.00,382.27 774.00,382.57 775.00,382.86C776.00,383.14 777.00,383.41 778.00,383.66C779.00,383.91 780.00,384.15 781.00,384.36C782.00,384.58 783.00,384.78 784.00,384.96C785.00,385.14 786.00,385.31 787.00,385.45C788.00,385.60 789.00,385.73 790.00,385.85C791.00,385.96 792.00,386.06 793.00,386.14C794.00,386.22 795.00,386.30 796.00,386.34C797.00,386.39 798.00,386.44 799.00,386.45C800.00,386.45 801.00,386.46 802.00,386.46C803.00,386.46 804.00,386.42 805.00,386.38C806.00,386.34 807.00,386.28 808.00,386.21C809.00,386.14 810.00,386.05 811.00,385.96C812.00,385.86 813.00,385.74 814.00,385.62C815.00,385.49 816.00,385.35 817.00,385.19C818.00,385.04 819.00,384.87 820.00,384.69C821.00,384.50 822.00,384.31 823.00,384.10C824.00,383.89 825.00,383.67 826.00,383.43C827.00,383.20 828.00,382.95 829.00,382.69C830.00,382.43 831.00,382.16 832.00,381.87C833.00,381.59 834.00,381.29 835.00,380.98C836.00,380.68 837.00,380.36 838.00,380.02C839.00,379.69 840.00,379.35 841.00,378.99C842.00,378.64 843.00,378.27 844.00,377.89C845.00,377.52 846.00,377.13 847.00,376.73C848.00,376.33 849.00,375.92 850.00,375.50C851.00,375.08 852.00,374.65 853.00,374.21C854.00,373.77 855.00,373.32 856.00,372.86C857.00,372.40 858.00,371.93 859.00,371.45C860.00,370.97 861.00,370.48 862.00,369.98C863.00,369.48 864.00,368.98 865.00,368.46C866.00,367.94 867.00,367.42 868.00,366.88C869.00,366.35 870.00,365.81 871.00,365.26C872.00,364.71 873.00,364.15 874.00,363.58C875.00,363.01 876.00,362.44 877.00,361.85C878.00,361.27 879.00,360.68 880.00,360.08C881.00,359.48 882.00,358.88 883.00,358.27C884.00,357.65 885.00,357.03 886.00,356.41C887.00,355.78 888.00,355.15 889.00,354.51C890.00,353.87 891.00,353.22 892.00,352.57C893.00,351.92 894.00,351.26 895.00,350.59C896.00,349.93 897.00,349.26 898.00,348.58C899.00,347.91 900.00,347.22 901.00,346.54C902.00,345.85 903.00,345.16 904.00,344.46C905.00,343.76 906.00,343.06 907.00,342.35C908.00,341.64 909.00,340.93 910.00,340.22C911.00,339.50 912.00,338.78 913.00,338.05C914.00,337.33 915.00,336.60 916.00,335.87C917.00,335.13 918.00,334.40 919.00,333.66C920.00,332.92 921.00,332.17 922.00,331.42C923.00,330.68 924.00,329.93 925.00,329.17C926.00,328.42 927.00,327.66 928.00,326.90C929.00,326.15 930.00,325.38 931.00,324.62C932.00,323.86 933.00,323.09 934.00,322.32C935.00,321.55 936.00,320.78 937.00,320.01C938.00,319.24 939.00,318.47 940.00,317.69C941.00,316.91 942.00,316.14 943.00,315.36C944.00,314.58 945.00,313.80 946.00,313.02C947.00,312.24 948.00,311.46 949.00,310.68C950.00,309.90 951.00,309.12 952.00,308.34C953.00,307.55 954.00,306.77 955.00,305.99C956.00,305.21 957.00,304.42 958.00,303.64C959.00,302.86 960.00,302.08 961.00,301.30C962.00,300.52 963.00,299.74 964.00,298.96C965.00,298.18 966.00,297.40 967.00,296.62C968.00,295.84 969.00,295.06 970.00,294.28C971.00,293.51 972.00,292.73 973.00,291.96C974.00,291.18 975.00,290.41 976.00,289.63C977.00,288.86 978.00,288.08 979.00,287.31C980.00,286.54 981.00,285.77 982.00,285.00C983.00,284.22 984.00,283.45 985.00,282.68C986.00,281.92 987.00,281.15 988.00,280.38C989.00,279.61 990.00,278.84 991.00,278.08C992.00,277.31 993.00,276.55 994.00,275.78C995.00,275.02 996.00,274.25 997.00,273.49C998.00,272.73 999.00,271.97 1000.00,271.21C1001.00,270.45 1002.00,269.69 1003.00,268.93C1004.00,268.17 1005.00,267.41 1006.00,266.65C1007.00,265.90 1008.00,265.14 1009.00,264.39C1010.00,263.63 1011.00,262.88 1012.00,262.13C1013.00,261.37 1014.00,260.62 1015.00,259.87C1016.00,259.12 1017.00,258.37 1018.00,257.62C1019.00,256.87 1020.00,256.12 1021.00,255.38C1022.00,254.63 1023.00,253.89 1024.00,253.14C1025.00,252.40 1026.00,251.65 1027.00,250.91C1028.00,250.17 1029.00,249.43 1030.00,248.69C1031.00,247.95 1032.00,247.21 1033.00,246.47C1034.00,245.74 1035.00,245.00 1036.00,244.27C1037.00,243.53 1038.00,242.80 1039.00,242.06C1040.00,241.33 1041.00,240.60 1042.00,239.87C1043.00,239.14 1044.00,238.41 1045.00,237.68C1046.00,236.96 1047.00,236.23 1048.00,235.51C1049.00,234.78 1050.00,234.06 1051.00,233.34C1052.00,232.61 1053.00,231.89 1054.00,231.17C1055.00,230.45 1056.00,229.74 1057.00,229.02C1058.00,228.30 1059.00,227.59 1060.00,226.87C1061.00,226.16 1062.00,225.45 1063.00,224.73C1064.00,224.02 1065.00,223.31 1066.00,222.60C1067.00,221.90 1068.00,221.19 1069.00,220.48C1070.00,219.78 1071.00,219.07 1072.00,218.37C1073.00,217.67 1074.00,216.97 1075.00,216.27C1076.00,215.57 1077.00,214.87 1078.00,214.17C1079.00,213.48 1080.00,212.78 1081.00,212.09C1082.00,211.40 1083.00,210.70 1084.00,210.01C1085.00,209.32 1086.00,208.64 1087.00,207.95C1088.00,207.26 1089.00,206.58 1090.00,205.89C1091.00,205.21 1092.00,204.53 1093.00,203.85C1094.00,203.16 1095.00,202.49 1096.00,201.81C1097.00,201.13 1098.00,200.46 1099.00,199.78C1100.00,199.11 1101.00,198.44 1102.00,197.77C1103.00,197.10 1104.00,196.43 1105.00,195.76C1106.00,195.09 1107.00,194.43 1108.00,193.76C1109.00,193.10 1110.00,192.44 1111.00,191.78C1112.00,191.12 1113.00,190.46 1114.00,189.80C1115.00,189.15 1116.00,188.49 1117.00,187.84C1118.00,187.19 1119.00,186.54 1120.00,185.89C1121.00,185.24 1122.00,184.59 1123.00,183.95C1124.00,183.30 1125.00,182.66 1126.00,182.02C1127.00,181.38 1128.00,180.74 1129.00,180.10C1130.00,179.46 1131.00,178.83 1132.00,178.19C1133.00,177.56 1134.00,176.93 1135.00,176.30C1136.00,175.67 1137.00,175.04 1138.00,174.41C1139.00,173.79 1140.00,173.16 1141.00,172.54C1142.00,171.92 1143.00,171.30 1144.00,170.68C1145.00,170.07 1146.00,169.45 1147.00,168.84C1148.00,168.22 1149.00,167.61 1150.00,167.00C1151.00,166.39 1152.00,165.78 1153.00,165.18C1154.00,164.57 1155.00,163.97 1156.00,163.37C1157.00,162.77 1158.00,162.17 1159.00,161.57C1160.00,160.98 1161.00,160.38 1162.00,159.79C1163.00,159.20 1164.00,158.61 1165.00,158.02C1166.00,157.43 1167.00,156.85 1168.00,156.26C1169.00,155.68 1170.00,155.10 1171.00,154.52C1172.00,153.94 1173.00,153.36 1174.00,152.79C1175.00,152.21 1176.00,151.64 1177.00,151.07C1178.00,150.50 1179.00,149.93 1180.00,149.37C1181.00,148.80 1182.00,148.24 1183.00,147.68C1184.00,147.12 1185.00,146.56 1186.00,146.00C1187.00,145.45 1188.00,144.89 1189.00,144.34C1190.00,143.79 1191.00,143.24 1192.00,142.70C1193.00,142.15 1194.00,141.61 1195.00,141.07C1196.00,140.52 1197.00,139.98 1198.00,139.45C1199.00,138.91 1200.00,138.38 1201.00,137.85C1202.00,137.31 1203.00,136.78 1204.00,136.26C1205.00,135.73 1206.00,135.21 1207.00,134.69C1208.00,134.16 1209.00,133.64 1210.00,133.13C1211.00,132.61 1212.00,132.10 1213.00,131.59C1214.00,131.07 1215.00,130.57 1216.00,130.06C1217.00,129.55 1218.00,129.05 1219.00,128.55C1220.00,128.05 1221.00,127.55 1222.00,127.05C1223.00,126.56 1224.00,126.06 1225.00,125.57C1226.00,125.08 1227.00,124.60 1228.00,124.11C1229.00,123.62 1230.00,123.14 1231.00,122.66C1232.00,122.18 1233.00,121.71 1234.00,121.23C1235.00,120.76 1236.00,120.29 1237.00,119.82C1238.00,119.35 1239.00,118.88 1240.00,118.42C1241.00,117.96 1242.00,117.50 1243.00,117.04C1244.00,116.58 1245.00,116.13 1246.00,115.67C1247.00,115.22 1248.00,114.77 1249.00,114.33C1250.00,113.88 1251.00,113.44 1252.00,113.00C1253.00,112.56 1254.00,112.12 1255.00,111.68C1256.00,111.25 1257.00,110.82 1258.00,110.39C1259.00,109.96 1260.00,109.53 1261.00,109.11C1262.00,108.69 1263.00,108.27 1264.00,107.85C1265.00,107.43 1266.00,107.02 1267.00,106.61C1268.00,106.19 1269.00,105.79 1270.00,105.38C1271.00,104.98 1272.00,104.57 1273.00,104.17C1274.00,103.78 1275.00,103.38 1276.00,102.99C1277.00,102.59 1278.00,102.20 1279.00,101.82C1280.00,101.43 1281.00,101.05 1282.00,100.66C1283.00,100.28 1284.00,99.91 1285.00,99.53C1286.00,99.16 1287.00,98.78 1288.00,98.42C1289.00,98.05 1290.00,97.68 1291.00,97.32C1292.00,96.96 1293.00,96.60 1294.00,96.24C1295.00,95.89 1296.00,95.53 1297.00,95.18C1298.00,94.83 1299.00,94.48 1300.00,94.14C1301.00,93.80 1302.00,93.46 1303.00,93.12C1304.00,92.78 1305.00,92.45 1306.00,92.11C1307.00,91.78 1308.00,91.45 1309.00,91.13C1310.00,90.80 1311.00,90.48 1312.00,90.16C1313.00,89.84 1314.00,89.53 1315.00,89.21C1316.00,88.90 1317.00,88.59 1318.00,88.28C1319.00,87.98 1320.00,87.67 1321.00,87.37C1322.00,87.07 1323.00,86.78 1324.00,86.48C1325.00,86.19 1326.00,85.90 1327.00,85.61C1328.00,85.32 1329.00,85.04 1330.00,84.76C1331.00,84.48 1332.00,84.20 1333.00,83.92C1334.00,83.65 1335.00,83.37 1336.00,83.11C1337.00,82.84 1338.00,82.57 1339.00,82.31C1340.00,82.05 1341.00,81.79 1342.00,81.53C1343.00,81.28 1344.00,81.02 1345.00,80.77C1346.00,80.52 1347.00,80.28 1348.00,80.03C1349.00,79.79 1350.00,79.55 1351.00,79.31C1352.00,79.08 1353.00,78.84 1354.00,78.61C1355.00,78.38 1356.00,78.15 1357.00,77.93C1358.00,77.71 1359.00,77.49 1360.00,77.27C1361.00,77.05 1362.00,76.84 1363.00,76.62C1364.00,76.41 1365.00,76.21 1366.00,76.00C1367.00,75.80 1368.00,75.59 1369.00,75.40C1370.00,75.20 1371.00,75.00 1372.00,74.81C1373.00,74.62 1374.00,74.43 1375.00,74.25C1376.00,74.06 1377.00,73.88 1378.00,73.70C1379.00,73.52 1380.00,73.35 1381.00,73.17C1382.00,73.00 1383.00,72.83 1384.00,72.67C1385.00,72.50 1386.00,72.34 1387.00,72.18C1388.00,72.02 1389.00,71.87 1390.00,71.71C1391.00,71.56 1392.00,71.41 1393.00,71.27C1394.00,71.12 1395.00,70.98 1396.00,70.84C1397.00,70.70 1398.00,70.56 1399.00,70.43C1400.00,70.30 1401.00,70.17 1402.00,70.04C1403.00,69.92 1404.00,69.79 1405.00,69.67C1406.00,69.55 1407.00,69.44 1408.00,69.32C1409.00,69.21 1410.00,69.10 1411.00,69.00C1412.00,68.89 1413.00,68.79 1414.00,68.69C1415.00,68.59 1416.00,68.49 1417.00,68.40C1418.00,68.31 1419.00,68.22 1420.00,68.13C1421.00,68.05 1422.00,67.96 1423.00,67.88C1424.00,67.80 1425.00,67.73 1426.00,67.65C1427.00,67.58 1428.00,67.51 1429.00,67.45C1430.00,67.38 1431.00,67.32 1432.00,67.26C1433.00,67.20 1434.00,67.14 1435.00,67.09C1436.00,67.04 1437.00,66.99 1438.00,66.94C1439.00,66.90 1440.00,66.86 1441.00,66.82C1442.00,66.78 1443.00,66.74 1444.00,66.71C1445.00,66.68 1446.00,66.65 1447.00,66.62C1448.00,66.60 1449.00,66.58 1450.00,66.56C1451.00,66.54 1452.00,66.52 1453.00,66.51C1454.00,66.50 1455.00,66.49 1456.00,66.49C1457.00,66.49 1458.00,66.49 1459.00,66.49C1460.00,66.49 1461.00,66.49 1462.00,66.50C1463.00,66.51 1464.00,66.52 1465.00,66.54C1466.00,66.55 1467.00,66.58 1468.00,66.60C1469.00,66.62 1470.00,66.65 1471.00,66.68C1472.00,66.71 1473.00,66.74 1474.00,66.78C1475.00,66.81 1476.00,66.85 1477.00,66.90C1478.00,66.94 1479.00,66.99 1480.00,67.04C1481.00,67.09 1482.00,67.14 1483.00,67.20C1484.00,67.26 1485.00,67.32 1486.00,67.38C1487.00,67.45 1488.00,67.51 1489.00,67.59C1490.00,67.66 1491.00,67.73 1492.00,67.81C1493.00,67.89 1494.00,67.97 1495.00,68.06C1496.00,68.14 1497.00,68.23 1498.00,68.32C1499.00,68.42 1500.00,68.51 1501.00,68.61C1502.00,68.71 1503.00,68.81 1504.00,68.92C1505.00,69.03 1506.00,69.14 1507.00,69.25C1508.00,69.36 1509.00,69.48 1510.00,69.60C1511.00,69.72 1512.00,69.85 1513.00,69.97C1514.00,70.10 1515.00,70.23 1516.00,70.37C1517.00,70.50 1518.00,70.64 1519.00,70.78C1520.00,70.93 1521.00,71.07 1522.00,71.22C1523.00,71.37 1524.00,71.52 1525.00,71.68C1526.00,71.84 1527.00,72.00 1528.00,72.16C1529.00,72.32 1530.00,72.49 1531.00,72.66C1532.00,72.83 1533.00,73.00 1534.00,73.18C1535.00,73.36 1536.00,73.54 1537.00,73.73C1538.00,73.91 1539.00,74.10 1540.00,74.29C1541.00,74.48 1542.00,74.68 1543.00,74.88C1544.00,75.08 1545.00,75.28 1546.00,75.49C1547.00,75.70 1548.00,75.91 1549.00,76.12C1550.00,76.33 1551.00,76.55 1552.00,76.77C1553.00,76.99 1554.00,77.22 1555.00,77.45C1556.00,77.68 1557.00,77.91 1558.00,78.14C1559.00,78.38 1560.00,78.62 1561.00,78.86C1562.00,79.10 1563.00,79.35 1564.00,79.60C1565.00,79.85 1566.00,80.11 1567.00,80.36C1568.00,80.62 1569.00,80.88 1570.00,81.15C1571.00,81.41 1572.00,81.68 1573.00,81.95C1574.00,82.23 1575.00,82.50 1576.00,82.78C1577.00,83.06 1578.00,83.34 1579.00,83.63C1580.00,83.92 1581.00,84.21 1582.00,84.50C1583.00,84.80 1584.00,85.10 1585.00,85.40C1586.00,85.70 1587.00,86.01 1588.00,86.32C1589.00,86.62 1590.00,86.94 1591.00,87.25C1592.00,87.57 1593.00,87.89 1594.00,88.22C1595.00,88.54 1596.00,88.87 1597.00,89.20C1598.00,89.53 1599.00,89.87 1600.00,90.21C1601.00,90.54 1602.00,90.89 1603.00,91.23C1604.00,91.58 1605.00,91.93 1606.00,92.28C1607.00,92.64 1608.00,93.00 1609.00,93.36C1610.00,93.72 1611.00,94.08 1612.00,94.45C1613.00,94.82 1614.00,95.20 1615.00,95.57C1616.00,95.95 1617.00,96.33 1618.00,96.71C1619.00,97.10 1620.00,97.49 1621.00,97.88C1622.00,98.27 1623.00,98.66 1624.00,99.06C1625.00,99.46 1626.00,99.87 1627.00,100.27C1628.00,100.68 1629.00,101.09 1630.00,101.50C1631.00,101.92 1632.00,102.34 1633.00,102.76C1634.00,103.18 1635.00,103.61 1636.00,104.04C1637.00,104.47 1638.00,104.90 1639.00,105.34C1640.00,105.77 1641.00,106.21 1642.00,106.66C1643.00,107.10 1644.00,107.55 1645.00,108.01C1646.00,108.46 1647.00,108.91 1648.00,109.37C1649.00,109.84 1650.00,110.30 1651.00,110.77C1652.00,111.24 1653.00,111.71 1654.00,112.18C1655.00,112.66 1656.00,113.14 1657.00,113.62C1658.00,114.10 1659.00,114.59 1660.00,115.08C1661.00,115.57 1662.00,116.07 1663.00,116.57C1664.00,117.07 1665.00,117.57 1666.00,118.07C1667.00,118.58 1668.00,119.09 1669.00,119.61C1670.00,120.12 1671.00,120.64 1672.00,121.16C1673.00,121.68 1674.00,122.21 1675.00,122.73C1676.00,123.26 1677.00,123.79 1678.00,124.33C1679.00,124.87 1680.00,125.41 1681.00,125.95C1682.00,126.49 1683.00,127.04 1684.00,127.59C1685.00,128.14 1686.00,128.69 1687.00,129.25C1688.00,129.81 1689.00,130.37 1690.00,130.93C1691.00,131.49 1692.00,132.06 1693.00,132.63C1694.00,133.20 1695.00,133.77 1696.00,134.35C1697.00,134.93 1698.00,135.51 1699.00,136.09C1700.00,136.67 1701.00,137.26 1702.00,137.85C1703.00,138.43 1704.00,139.03 1705.00,139.62C1706.00,140.22 1707.00,140.82 1708.00,141.42C1709.00,142.02 1710.00,142.62 1711.00,143.23C1712.00,143.84 1713.00,144.45 1714.00,145.06C1715.00,145.67 1716.00,146.29 1717.00,146.91C1718.00,147.52 1719.00,148.15 1720.00,148.77C1721.00,149.39 1722.00,150.02 1723.00,150.65C1724.00,151.28 1725.00,151.91 1726.00,152.54C1727.00,153.18 1728.00,153.82 1729.00,154.46C1730.00,155.10 1731.00,155.74 1732.00,156.38C1733.00,157.03 1734.00,157.67 1735.00,158.32C1736.00,158.97 1737.00,159.63 1738.00,160.28C1739.00,160.93 1740.00,161.59 1741.00,162.25C1742.00,162.91 1743.00,163.57 1744.00,164.23C1745.00,164.90 1746.00,165.56 1747.00,166.23C1748.00,166.90 1749.00,167.57 1750.00,168.24C1751.00,168.91 1752.00,169.59 1753.00,170.27C1754.00,170.94 1755.00,171.62 1756.00,172.30C1757.00,172.98 1758.00,173.66 1759.00,174.35C1760.00,175.03 1761.00,175.72 1762.00,176.41C1763.00,177.10 1764.00,177.79 1765.00,178.48C1766.00,179.17 1767.00,179.86 1768.00,180.56C1769.00,181.26 1770.00,181.95 1771.00,182.65C1772.00,183.35 1773.00,184.05 1774.00,184.75C1775.00,185.46 1776.00,186.16 1777.00,186.87C1778.00,187.57 1779.00,188.28 1780.00,188.99C1781.00,189.70 1782.00,190.41 1783.00,191.12C1784.00,191.83 1785.00,192.54 1786.00,193.26C1787.00,193.97 1788.00,194.69 1789.00,195.41C1790.00,196.12 1791.00,196.84 1792.00,197.56C1793.00,198.28 1794.00,199.00 1795.00,199.72C1796.00,200.45 1797.00,201.17 1798.00,201.89C1799.00,202.62 1800.00,203.35 1801.00,204.07C1802.00,204.80 1803.00,205.53 1804.00,206.26C1805.00,206.99 1806.00,207.72 1807.00,208.45C1808.00,209.18 1809.00,209.91 1810.00,210.64C1811.00,211.38 1812.00,212.11 1813.00,212.84C1814.00,213.58 1815.00,214.32 1816.00,215.05C1817.00,215.79 1818.00,216.53 1819.00,217.26C1820.00,218.00 1821.00,218.74 1822.00,219.48C1823.00,220.22 1824.00,220.96 1825.00,221.70C1826.00,222.44 1827.00,223.18 1828.00,223.92C1829.00,224.67 1830.00,225.41 1831.00,226.15C1832.00,226.89 1833.00,227.64 1834.00,228.38C1835.00,229.12 1836.00,229.87 1837.00,230.61C1838.00,231.36 1839.00,232.10 1840.00,232.85C1841.00,233.59 1842.00,234.34 1843.00,235.09C1844.00,235.83 1845.00,236.58 1846.00,237.32C1847.00,238.07 1848.00,238.82 1849.00,239.56C1850.00,240.31 1851.00,241.06 1852.00,241.80C1853.00,242.55 1854.00,243.30 1855.00,244.04C1856.00,244.79 1857.00,245.54 1858.00,246.28C1859.00,247.03 1860.00,247.78 1861.00,248.53C1862.00,249.27 1863.00,250.02 1864.00,250.77C1865.00,251.51 1866.00,252.26 1867.00,253.00C1868.00,253.75 1869.00,254.50 1870.00,255.24C1871.00,255.99 1872.00,256.73 1873.00,257.48C1874.00,258.22 1875.00,258.97 1876.00,259.71C1877.00,260.46 1878.00,261.20 1879.00,261.94C1880.00,262.69 1881.00,263.43 1882.00,264.17C1883.00,264.91 1884.00,265.65 1885.00,266.40C1886.00,267.14 1887.00,267.88 1888.00,268.62C1889.00,269.36 1890.00,270.10 1891.00,270.84C1892.00,271.57 1893.00,272.31 1894.00,273.05C1895.00,273.79 1896.00,274.52 1897.00,275.26C1897.67,275.75 1898.33,276.24 1899.00,276.73" stroke="#00ffff" stroke-width="7" fill="none" stroke-linejoin="round"/>
<path d="M239.50,250.00C240.00,216.67 240.50,177.45 241.00,150.00C241.50,122.55 242.00,87.56 242.50,80.00C242.83,74.96 243.17,70.50 243.50,70.50C243.83,70.50 244.17,80.05 244.50,92.00C244.83,103.95 245.17,165.38 245.50,200.00C245.83,234.62 246.17,263.64 246.50,300.00C246.83,336.36 247.17,387.57 247.50,420.00C248.00,468.65 248.50,510.53 249.00,540.00C249.50,569.47 250.00,581.62 250.50,610.00C250.83,628.92 251.17,663.85 251.50,680.00C252.17,712.31 252.83,735.15 253.50,750.00C254.33,768.56 255.17,785.32 256.00,790.00C256.67,793.74 257.33,797.00 258.00,797.00C259.33,797.00 260.67,786.58 262.00,775.00C263.00,766.32 264.00,744.57 265.00,720.00C265.67,703.62 266.33,681.73 267.00,650.00C267.43,629.37 267.87,594.25 268.30,560.00C268.70,528.39 269.10,483.50 269.50,450.00C269.93,413.71 270.37,373.94 270.80,350.00C271.27,324.22 271.73,299.14 272.20,290.00C272.73,279.55 273.27,270.00 273.80,270.00C274.87,270.00 275.93,289.02 277.00,300.00C278.43,314.75 279.87,336.30 281.30,349.60C283.80,372.80 286.30,389.43 288.80,406.00C291.33,422.79 293.87,451.00 296.40,451.00C298.27,451.00 300.13,445.51 302.00,440.00C303.90,434.39 305.80,418.57 307.70,406.00C310.20,389.45 312.70,364.55 315.20,349.60C317.73,334.45 320.27,322.55 322.80,311.90C324.67,304.05 326.53,294.75 328.40,291.20C330.93,286.38 333.47,282.31 336.00,281.80C339.13,281.17 342.27,281.41 345.40,280.80C347.90,280.31 350.40,277.46 352.90,274.20C355.40,270.94 357.90,262.89 360.40,255.40C362.93,247.81 365.47,236.60 368.00,227.10C370.50,217.73 373.00,207.05 375.50,198.80C378.13,190.11 380.77,181.64 383.40,175.70C386.80,168.04 390.20,157.30 393.60,157.30C395.87,157.30 398.13,162.83 400.40,167.50C403.60,174.09 406.80,190.81 410.00,201.53C411.00,204.88 412.00,208.08 413.00,211.20C414.00,214.33 415.00,217.43 416.00,220.30C417.00,223.17 418.00,225.98 419.00,228.48C420.00,230.98 421.00,233.39 422.00,235.39C423.00,237.39 424.00,239.32 425.00,240.69C426.00,242.05 427.00,243.50 428.00,244.03C429.00,244.56 430.00,245.07 431.00,245.07C432.00,245.07 433.00,244.30 434.00,243.60C435.00,242.89 436.00,241.35 437.00,239.83C438.00,238.32 439.00,236.26 440.00,234.12C441.00,231.98 442.00,229.44 443.00,226.80C444.00,224.16 445.00,221.22 446.00,218.20C447.00,215.19 448.00,211.94 449.00,208.67C450.00,205.39 451.00,201.96 452.00,198.53C453.00,195.11 454.00,191.59 455.00,188.13C456.00,184.68 457.00,181.18 458.00,177.81C459.00,174.43 460.00,171.06 461.00,167.89C462.00,164.71 463.00,161.58 464.00,158.72C465.00,155.85 466.00,153.06 467.00,150.63C468.00,148.19 469.00,145.84 470.00,143.96C471.00,142.07 472.00,140.27 473.00,139.05C474.00,137.82 475.00,136.63 476.00,136.12C477.00,135.60 478.00,135.06 479.00,135.06C480.00,135.06 481.00,135.37 482.00,135.70C483.00,136.03 484.00,136.98 485.00,137.87C486.00,138.77 487.00,140.06 488.00,141.41C489.00,142.76 490.00,144.41 491.00,146.13C492.00,147.86 493.00,149.83 494.00,151.88C495.00,153.93 496.00,156.17 497.00,158.48C498.00,160.78 499.00,163.24 500.00,165.75C501.00,168.26 502.00,170.88 503.00,173.53C504.00,176.18 505.00,178.92 506.00,181.65C507.00,184.39 508.00,187.18 509.00,189.94C510.00,192.70 511.00,195.49 512.00,198.23C513.00,200.96 514.00,203.68 515.00,206.34C516.00,209.00 517.00,211.62 518.00,214.17C519.00,216.72 520.00,219.23 521.00,221.66C522.00,224.09 523.00,226.46 524.00,228.75C525.00,231.03 526.00,233.25 527.00,235.37C528.00,237.49 529.00,239.54 530.00,241.48C531.00,243.41 532.00,245.27 533.00,247.00C534.00,248.73 535.00,250.39 536.00,251.89C537.00,253.40 538.00,254.83 539.00,256.09C540.00,257.35 541.00,258.53 542.00,259.53C543.00,260.52 544.00,261.44 545.00,262.15C546.00,262.87 547.00,263.52 548.00,263.96C549.00,264.40 550.00,264.83 551.00,265.01C552.00,265.20 553.00,265.39 554.00,265.39C555.00,265.39 556.00,265.27 557.00,265.15C558.00,265.03 559.00,264.69 560.00,264.37C561.00,264.05 562.00,263.60 563.00,263.13C564.00,262.66 565.00,262.09 566.00,261.49C567.00,260.90 568.00,260.23 569.00,259.53C570.00,258.83 571.00,258.06 572.00,257.27C573.00,256.47 574.00,255.61 575.00,254.72C576.00,253.83 577.00,252.89 578.00,251.91C579.00,250.93 580.00,249.91 581.00,248.85C582.00,247.79 583.00,246.69 584.00,245.55C585.00,244.42 586.00,243.24 587.00,242.04C588.00,240.83 589.00,239.59 590.00,238.32C591.00,237.05 592.00,235.75 593.00,234.42C594.00,233.09 595.00,231.73 596.00,230.35C597.00,228.96 598.00,227.55 599.00,226.12C600.00,224.69 601.00,223.23 602.00,221.75C603.00,220.28 604.00,218.78 605.00,217.26C606.00,215.75 607.00,214.22 608.00,212.67C609.00,211.12 610.00,209.56 611.00,207.98C612.00,206.41 613.00,204.82 614.00,203.22C615.00,201.63 616.00,200.02 617.00,198.40C618.00,196.79 619.00,195.17 620.00,193.54C621.00,191.92 622.00,190.28 623.00,188.65C624.00,187.02 625.00,185.39 626.00,183.75C627.00,182.12 628.00,180.49 629.00,178.86C630.00,177.23 631.00,175.60 632.00,173.98C633.00,172.36 634.00,170.75 635.00,169.15C636.00,167.54 637.00,165.94 638.00,164.36C639.00,162.77 640.00,161.20 641.00,159.63C642.00,158.07 643.00,156.52 644.00,154.97C645.00,153.43 646.00,151.90 647.00,150.39C648.00,148.87 649.00,147.37 650.00,145.88C651.00,144.39 652.00,142.92 653.00,141.46C654.00,140.00 655.00,138.56 656.00,137.13C657.00,135.71 658.00,134.29 659.00,132.90C660.00,131.51 661.00,130.13 662.00,128.78C663.00,127.42 664.00,126.08 665.00,124.76C666.00,123.44 667.00,122.14 668.00,120.87C669.00,119.59 670.00,118.33 671.00,117.10C672.00,115.86 673.00,114.65 674.00,113.46C675.00,112.26 676.00,111.09 677.00,109.95C678.00,108.81 679.00,107.69 680.00,106.59C681.00,105.50 682.00,104.43 683.00,103.38C684.00,102.34 685.00,101.32 686.00,100.33C687.00,99.34 688.00,98.37 689.00,97.44C690.00,96.50 691.00,95.59 692.00,94.72C693.00,93.84 694.00,92.99 695.00,92.17C696.00,91.35 697.00,90.56 698.00,89.81C699.00,89.05 700.00,88.32 701.00,87.63C702.00,86.94 703.00,86.28 704.00,85.65C705.00,85.03 706.00,84.43 707.00,83.87C708.00,83.31 709.00,82.78 710.00,82.29C711.00,81.80 712.00,81.33 713.00,80.90C714.00,80.47 715.00,80.06 716.00,79.69C717.00,79.33 718.00,78.98 719.00,78.67C720.00,78.36 721.00,78.08 722.00,77.83C723.00,77.58 724.00,77.34 725.00,77.15C726.00,76.96 727.00,76.78 728.00,76.64C729.00,76.50 730.00,76.37 731.00,76.29C732.00,76.20 733.00,76.12 734.00,76.09C735.00,76.06 736.00,76.04 737.00,76.04C738.00,76.04 739.00,76.09 740.00,76.14C741.00,76.18 742.00,76.28 743.00,76.37C744.00,76.47 745.00,76.60 746.00,76.74C747.00,76.88 748.00,77.05 749.00,77.23C750.00,77.41 751.00,77.62 752.00,77.85C753.00,78.07 754.00,78.32 755.00,78.58C756.00,78.84 757.00,79.12 758.00,79.42C759.00,79.72 760.00,80.04 761.00,80.37C762.00,80.70 763.00,81.05 764.00,81.42C765.00,81.78 766.00,82.16 767.00,82.56C768.00,82.95 769.00,83.37 770.00,83.79C771.00,84.22 772.00,84.66 773.00,85.11C774.00,85.56 775.00,86.03 776.00,86.50C777.00,86.98 778.00,87.47 779.00,87.97C780.00,88.47 781.00,88.99 782.00,89.51C783.00,90.04 784.00,90.57 785.00,91.12C786.00,91.66 787.00,92.22 788.00,92.78C789.00,93.35 790.00,93.92 791.00,94.51C792.00,95.09 793.00,95.68 794.00,96.28C795.00,96.88 796.00,97.49 797.00,98.10C798.00,98.72 799.00,99.34 800.00,99.97C801.00,100.59 802.00,101.23 803.00,101.87C804.00,102.51 805.00,103.15 806.00,103.80C807.00,104.45 808.00,105.11 809.00,105.77C810.00,106.43 811.00,107.09 812.00,107.76C813.00,108.42 814.00,109.09 815.00,109.77C816.00,110.44 817.00,111.12 818.00,111.79C819.00,112.47 820.00,113.15 821.00,113.83C822.00,114.51 823.00,115.19 824.00,115.87C825.00,116.55 826.00,117.23 827.00,117.92C828.00,118.60 829.00,119.28 830.00,119.96C831.00,120.64 832.00,121.32 833.00,121.99C834.00,122.67 835.00,123.34 836.00,124.02C837.00,124.69 838.00,125.36 839.00,126.03C840.00,126.69 841.00,127.36 842.00,128.02C843.00,128.68 844.00,129.34 845.00,130.00C846.00,130.66 847.00,131.31 848.00,131.96C849.00,132.61 850.00,133.25 851.00,133.89C852.00,134.53 853.00,135.17 854.00,135.80C855.00,136.44 856.00,137.06 857.00,137.69C858.00,138.31 859.00,138.93 860.00,139.54C861.00,140.16 862.00,140.77 863.00,141.37C864.00,141.97 865.00,142.57 866.00,143.16C867.00,143.75 868.00,144.34 869.00,144.92C870.00,145.50 871.00,146.07 872.00,146.64C873.00,147.20 874.00,147.76 875.00,148.32C876.00,148.87 877.00,149.42 878.00,149.95C879.00,150.49 880.00,151.02 881.00,151.55C882.00,152.07 883.00,152.59 884.00,153.09C885.00,153.60 886.00,154.10 887.00,154.59C888.00,155.08 889.00,155.57 890.00,156.04C891.00,156.51 892.00,156.98 893.00,157.43C894.00,157.89 895.00,158.34 896.00,158.77C897.00,159.21 898.00,159.64 899.00,160.06C900.00,160.47 901.00,160.88 902.00,161.28C903.00,161.68 904.00,162.06 905.00,162.44C906.00,162.82 907.00,163.19 908.00,163.55C909.00,163.90 910.00,164.25 911.00,164.59C912.00,164.93 913.00,165.26 914.00,165.58C915.00,165.90 916.00,166.21 917.00,166.51C918.00,166.81 919.00,167.10 920.00,167.38C921.00,167.67 922.00,167.94 923.00,168.20C924.00,168.47 925.00,168.72 926.00,168.97C927.00,169.22 928.00,169.46 929.00,169.68C930.00,169.91 931.00,170.13 932.00,170.34C933.00,170.56 934.00,170.76 935.00,170.95C936.00,171.15 937.00,171.33 938.00,171.51C939.00,171.69 940.00,171.86 941.00,172.02C942.00,172.18 943.00,172.33 944.00,172.48C945.00,172.62 946.00,172.76 947.00,172.89C948.00,173.02 949.00,173.14 950.00,173.25C951.00,173.37 952.00,173.47 953.00,173.57C954.00,173.67 955.00,173.76 956.00,173.84C957.00,173.92 958.00,174.00 959.00,174.07C960.00,174.13 961.00,174.20 962.00,174.25C963.00,174.30 964.00,174.35 965.00,174.39C966.00,174.43 967.00,174.46 968.00,174.49C969.00,174.51 970.00,174.53 971.00,174.54C972.00,174.55 973.00,174.56 974.00,174.56C975.00,174.56 976.00,174.54 977.00,174.53C978.00,174.52 979.00,174.49 980.00,174.47C981.00,174.44 982.00,174.40 983.00,174.36C984.00,174.32 985.00,174.27 986.00,174.22C987.00,174.17 988.00,174.11 989.00,174.05C990.00,173.98 991.00,173.91 992.00,173.83C993.00,173.76 994.00,173.67 995.00,173.59C996.00,173.50 997.00,173.41 998.00,173.31C999.00,173.21 1000.00,173.10 1001.00,172.99C1002.00,172.88 1003.00,172.77 1004.00,172.65C1005.00,172.53 1006.00,172.40 1007.00,172.27C1008.00,172.14 1009.00,172.00 1010.00,171.86C1011.00,171.72 1012.00,171.57 1013.00,171.42C1014.00,171.27 1015.00,171.11 1016.00,170.95C1017.00,170.79 1018.00,170.63 1019.00,170.46C1020.00,170.29 1021.00,170.11 1022.00,169.94C1023.00,169.76 1024.00,169.57 1025.00,169.39C1026.00,169.20 1027.00,169.01 1028.00,168.81C1029.00,168.62 1030.00,168.42 1031.00,168.21C1032.00,168.01 1033.00,167.80 1034.00,167.59C1035.00,167.38 1036.00,167.16 1037.00,166.94C1038.00,166.73 1039.00,166.50 1040.00,166.28C1041.00,166.05 1042.00,165.82 1043.00,165.59C1044.00,165.35 1045.00,165.12 1046.00,164.88C1047.00,164.64 1048.00,164.39 1049.00,164.15C1050.00,163.90 1051.00,163.65 1052.00,163.40C1053.00,163.14 1054.00,162.89 1055.00,162.63C1056.00,162.37 1057.00,162.11 1058.00,161.84C1059.00,161.58 1060.00,161.31 1061.00,161.04C1062.00,160.77 1063.00,160.49 1064.00,160.22C1065.00,159.94 1066.00,159.66 1067.00,159.38C1068.00,159.10 1069.00,158.81 1070.00,158.53C1071.00,158.24 1072.00,157.95 1073.00,157.66C1074.00,157.37 1075.00,157.07 1076.00,156.77C1077.00,156.47 1078.00,156.17 1079.00,155.87C1080.00,155.57 1081.00,155.26 1082.00,154.96C1083.00,154.65 1084.00,154.34 1085.00,154.03C1086.00,153.72 1087.00,153.40 1088.00,153.09C1089.00,152.77 1090.00,152.45 1091.00,152.13C1092.00,151.81 1093.00,151.49 1094.00,151.16C1095.00,150.84 1096.00,150.51 1097.00,150.18C1098.00,149.85 1099.00,149.52 1100.00,149.19C1101.00,148.85 1102.00,148.52 1103.00,148.18C1104.00,147.85 1105.00,147.51 1106.00,147.17C1107.00,146.83 1108.00,146.49 1109.00,146.14C1110.00,145.80 1111.00,145.45 1112.00,145.11C1113.00,144.76 1114.00,144.41 1115.00,144.06C1116.00,143.71 1117.00,143.36 1118.00,143.00C1119.00,142.65 1120.00,142.30 1121.00,141.94C1122.00,141.58 1123.00,141.23 1124.00,140.87C1125.00,140.51 1126.00,140.15 1127.00,139.79C1128.00,139.42 1129.00,139.06 1130.00,138.70C1131.00,138.33 1132.00,137.97 1133.00,137.60C1134.00,137.24 1135.00,136.87 1136.00,136.50C1137.00,136.13 1138.00,135.76 1139.00,135.39C1140.00,135.02 1141.00,134.65 1142.00,134.28C1143.00,133.91 1144.00,133.53 1145.00,133.16C1146.00,132.79 1147.00,132.41 1148.00,132.03C1149.00,131.66 1150.00,131.28 1151.00,130.91C1152.00,130.53 1153.00,130.15 1154.00,129.77C1155.00,129.40 1156.00,129.02 1157.00,128.64C1158.00,128.26 1159.00,127.88 1160.00,127.50C1161.00,127.12 1162.00,126.74 1163.00,126.36C1164.00,125.97 1165.00,125.59 1166.00,125.21C1167.00,124.83 1168.00,124.45 1169.00,124.07C1170.00,123.68 1171.00,123.30 1172.00,122.92C1173.00,122.53 1174.00,122.15 1175.00,121.77C1176.00,121.39 1177.00,121.00 1178.00,120.62C1179.00,120.24 1180.00,119.85 1181.00,119.47C1182.00,119.09 1183.00,118.71 1184.00,118.32C1185.00,117.94 1186.00,117.56 1187.00,117.17C1188.00,116.79 1189.00,116.41 1190.00,116.03C1191.00,115.65 1192.00,115.26 1193.00,114.88C1194.00,114.50 1195.00,114.12 1196.00,113.74C1197.00,113.36 1198.00,112.98 1199.00,112.60C1200.00,112.22 1201.00,111.84 1202.00,111.46C1203.00,111.08 1204.00,110.71 1205.00,110.33C1206.00,109.95 1207.00,109.57 1208.00,109.20C1209.00,108.82 1210.00,108.45 1211.00,108.07C1212.00,107.70 1213.00,107.33 1214.00,106.95C1215.00,106.58 1216.00,106.21 1217.00,105.84C1218.00,105.47 1219.00,105.10 1220.00,104.73C1221.00,104.36 1222.00,103.99 1223.00,103.62C1224.00,103.26 1225.00,102.89 1226.00,102.53C1227.00,102.16 1228.00,101.80 1229.00,101.44C1230.00,101.07 1231.00,100.71 1232.00,100.35C1233.00,99.99 1234.00,99.64 1235.00,99.28C1236.00,98.92 1237.00,98.57 1238.00,98.21C1239.00,97.86 1240.00,97.50 1241.00,97.15C1242.00,96.80 1243.00,96.45 1244.00,96.10C1245.00,95.75 1246.00,95.40 1247.00,95.06C1248.00,94.71 1249.00,94.37 1250.00,94.02C1251.00,93.68 1252.00,93.34 1253.00,93.00C1254.00,92.65 1255.00,92.32 1256.00,91.98C1257.00,91.64 1258.00,91.30 1259.00,90.97C1260.00,90.63 1261.00,90.30 1262.00,89.97C1263.00,89.64 1264.00,89.30 1265.00,88.98C1266.00,88.65 1267.00,88.32 1268.00,87.99C1269.00,87.67 1270.00,87.34 1271.00,87.02C1272.00,86.70 1273.00,86.37 1274.00,86.05C1275.00,85.74 1276.00,85.42 1277.00,85.10C1278.00,84.78 1279.00,84.47 1280.00,84.15C1281.00,83.84 1282.00,83.53 1283.00,83.22C1284.00,82.91 1285.00,82.60 1286.00,82.29C1287.00,81.98 1288.00,81.68 1289.00,81.37C1290.00,81.07 1291.00,80.77 1292.00,80.47C1293.00,80.17 1294.00,79.87 1295.00,79.57C1296.00,79.27 1297.00,78.98 1298.00,78.68C1299.00,78.39 1300.00,78.10 1301.00,77.81C1302.00,77.52 1303.00,77.23 1304.00,76.94C1305.00,76.66 1306.00,76.37 1307.00,76.09C1308.00,75.80 1309.00,75.52 1310.00,75.24C1311.00,74.96 1312.00,74.68 1313.00,74.41C1314.00,74.13 1315.00,73.86 1316.00,73.58C1317.00,73.31 1318.00,73.04 1319.00,72.77C1320.00,72.50 1321.00,72.24 1322.00,71.97C1323.00,71.71 1324.00,71.44 1325.00,71.18C1326.00,70.92 1327.00,70.66 1328.00,70.40C1329.00,70.14 1330.00,69.89 1331.00,69.63C1332.00,69.38 1333.00,69.13 1334.00,68.88C1335.00,68.63 1336.00,68.38 1337.00,68.13C1338.00,67.89 1339.00,67.64 1340.00,67.40C1341.00,67.16 1342.00,66.92 1343.00,66.68C1344.00,66.44 1345.00,66.21 1346.00,65.97C1347.00,65.74 1348.00,65.50 1349.00,65.27C1350.00,65.04 1351.00,64.82 1352.00,64.59C1353.00,64.36 1354.00,64.14 1355.00,63.92C1356.00,63.70 1357.00,63.48 1358.00,63.26C1359.00,63.04 1360.00,62.82 1361.00,62.61C1362.00,62.40 1363.00,62.19 1364.00,61.98C1365.00,61.77 1366.00,61.56 1367.00,61.36C1368.00,61.15 1369.00,60.95 1370.00,60.75C1371.00,60.55 1372.00,60.35 1373.00,60.15C1374.00,59.95 1375.00,59.76 1376.00,59.57C1377.00,59.38 1378.00,59.19 1379.00,59.00C1380.00,58.81 1381.00,58.63 1382.00,58.44C1383.00,58.26 1384.00,58.08 1385.00,57.90C1386.00,57.72 1387.00,57.55 1388.00,57.37C1389.00,57.20 1390.00,57.03 1391.00,56.86C1392.00,56.69 1393.00,56.52 1394.00,56.36C1395.00,56.19 1396.00,56.03 1397.00,55.87C1398.00,55.71 1399.00,55.55 1400.00,55.39C1401.00,55.24 1402.00,55.09 1403.00,54.94C1404.00,54.79 1405.00,54.64 1406.00,54.49C1407.00,54.35 1408.00,54.20 1409.00,54.06C1410.00,53.92 1411.00,53.78 1412.00,53.64C1413.00,53.51 1414.00,53.38 1415.00,53.24C1416.00,53.11 1417.00,52.98 1418.00,52.86C1419.00,52.73 1420.00,52.61 1421.00,52.49C1422.00,52.36 1423.00,52.25 1424.00,52.13C1425.00,52.01 1426.00,51.90 1427.00,51.79C1428.00,51.68 1429.00,51.57 1430.00,51.46C1431.00,51.36 1432.00,51.25 1433.00,51.15C1434.00,51.05 1435.00,50.95 1436.00,50.86C1437.00,50.76 1438.00,50.67 1439.00,50.58C1440.00,50.48 1441.00,50.40 1442.00,50.31C1443.00,50.23 1444.00,50.14 1445.00,50.06C1446.00,49.98 1447.00,49.91 1448.00,49.83C1449.00,49.76 1450.00,49.68 1451.00,49.61C1452.00,49.54 1453.00,49.48 1454.00,49.41C1455.00,49.35 1456.00,49.29 1457.00,49.23C1458.00,49.17 1459.00,49.12 1460.00,49.06C1461.00,49.01 1462.00,48.96 1463.00,48.91C1464.00,48.86 1465.00,48.82 1466.00,48.78C1467.00,48.73 1468.00,48.70 1469.00,48.66C1470.00,48.62 1471.00,48.59 1472.00,48.56C1473.00,48.53 1474.00,48.50 1475.00,48.47C1476.00,48.45 1477.00,48.43 1478.00,48.41C1479.00,48.39 1480.00,48.37 1481.00,48.36C1482.00,48.34 1483.00,48.33 1484.00,48.33C1485.00,48.32 1486.00,48.31 1487.00,48.31C1488.00,48.31 1489.00,48.31 1490.00,48.31C1491.00,48.31 1492.00,48.32 1493.00,48.33C1494.00,48.34 1495.00,48.36 1496.00,48.37C1497.00,48.39 1498.00,48.41 1499.00,48.43C1500.00,48.45 1501.00,48.47 1502.00,48.50C1503.00,48.53 1504.00,48.56 1505.00,48.59C1506.00,48.63 1507.00,48.66 1508.00,48.70C1509.00,48.74 1510.00,48.79 1511.00,48.83C1512.00,48.88 1513.00,48.93 1514.00,48.98C1515.00,49.03 1516.00,49.09 1517.00,49.14C1518.00,49.20 1519.00,49.26 1520.00,49.33C1521.00,49.39 1522.00,49.46 1523.00,49.53C1524.00,49.60 1525.00,49.68 1526.00,49.75C1527.00,49.83 1528.00,49.91 1529.00,49.99C1530.00,50.08 1531.00,50.16 1532.00,50.25C1533.00,50.34 1534.00,50.44 1535.00,50.53C1536.00,50.63 1537.00,50.73 1538.00,50.83C1539.00,50.94 1540.00,51.04 1541.00,51.15C1542.00,51.26 1543.00,51.37 1544.00,51.49C1545.00,51.61 1546.00,51.72 1547.00,51.85C1548.00,51.97 1549.00,52.10 1550.00,52.22C1551.00,52.35 1552.00,52.49 1553.00,52.62C1554.00,52.76 1555.00,52.90 1556.00,53.04C1557.00,53.18 1558.00,53.33 1559.00,53.48C1560.00,53.63 1561.00,53.78 1562.00,53.94C1563.00,54.09 1564.00,54.25 1565.00,54.41C1566.00,54.58 1567.00,54.74 1568.00,54.91C1569.00,55.08 1570.00,55.26 1571.00,55.43C1572.00,55.61 1573.00,55.79 1574.00,55.97C1575.00,56.16 1576.00,56.34 1577.00,56.54C1578.00,56.73 1579.00,56.92 1580.00,57.12C1581.00,57.32 1582.00,57.52 1583.00,57.72C1584.00,57.93 1585.00,58.13 1586.00,58.35C1587.00,58.56 1588.00,58.77 1589.00,58.99C1590.00,59.21 1591.00,59.43 1592.00,59.66C1593.00,59.89 1594.00,60.12 1595.00,60.35C1596.00,60.58 1597.00,60.82 1598.00,61.06C1599.00,61.30 1600.00,61.55 1601.00,61.79C1602.00,62.04 1603.00,62.29 1604.00,62.55C1605.00,62.80 1606.00,63.06 1607.00,63.32C1608.00,63.59 1609.00,63.85 1610.00,64.12C1611.00,64.39 1612.00,64.67 1613.00,64.94C1614.00,65.22 1615.00,65.50 1616.00,65.79C1617.00,66.07 1618.00,66.36 1619.00,66.65C1620.00,66.95 1621.00,67.24 1622.00,67.54C1623.00,67.84 1624.00,68.15 1625.00,68.45C1626.00,68.76 1627.00,69.07 1628.00,69.39C1629.00,69.70 1630.00,70.02 1631.00,70.35C1632.00,70.67 1633.00,71.00 1634.00,71.33C1635.00,71.66 1636.00,71.99 1637.00,72.33C1638.00,72.67 1639.00,73.01 1640.00,73.36C1641.00,73.70 1642.00,74.05 1643.00,74.40C1644.00,74.76 1645.00,75.11 1646.00,75.48C1647.00,75.84 1648.00,76.20 1649.00,76.57C1650.00,76.94 1651.00,77.31 1652.00,77.68C1653.00,78.06 1654.00,78.44 1655.00,78.82C1656.00,79.20 1657.00,79.59 1658.00,79.98C1659.00,80.37 1660.00,80.76 1661.00,81.16C1662.00,81.56 1663.00,81.96 1664.00,82.36C1665.00,82.76 1666.00,83.17 1667.00,83.58C1668.00,83.99 1669.00,84.41 1670.00,84.82C1671.00,85.24 1672.00,85.66 1673.00,86.09C1674.00,86.51 1675.00,86.94 1676.00,87.37C1677.00,87.80 1678.00,88.24 1679.00,88.68C1680.00,89.11 1681.00,89.56 1682.00,90.00C1683.00,90.45 1684.00,90.89 1685.00,91.35C1686.00,91.80 1687.00,92.25 1688.00,92.71C1689.00,93.17 1690.00,93.63 1691.00,94.09C1692.00,94.56 1693.00,95.02 1694.00,95.49C1695.00,95.97 1696.00,96.44 1697.00,96.92C1698.00,97.39 1699.00,97.87 1700.00,98.36C1701.00,98.84 1702.00,99.33 1703.00,99.82C1704.00,100.31 1705.00,100.80 1706.00,101.29C1707.00,101.79 1708.00,102.29 1709.00,102.79C1710.00,103.29 1711.00,103.80 1712.00,104.30C1713.00,104.81 1714.00,105.32 1715.00,105.84C1716.00,106.35 1717.00,106.87 1718.00,107.39C1719.00,107.91 1720.00,108.43 1721.00,108.95C1722.00,109.48 1723.00,110.01 1724.00,110.54C1725.00,111.07 1726.00,111.60 1727.00,112.14C1728.00,112.68 1729.00,113.22 1730.00,113.76C1731.00,114.30 1732.00,114.85 1733.00,115.40C1734.00,115.94 1735.00,116.49 1736.00,117.05C1737.00,117.60 1738.00,118.16 1739.00,118.72C1740.00,119.28 1741.00,119.84 1742.00,120.40C1743.00,120.97 1744.00,121.53 1745.00,122.10C1746.00,122.67 1747.00,123.25 1748.00,123.82C1749.00,124.39 1750.00,124.97 1751.00,125.55C1752.00,126.13 1753.00,126.72 1754.00,127.30C1755.00,127.89 1756.00,128.47 1757.00,129.06C1758.00,129.65 1759.00,130.25 1760.00,130.84C1761.00,131.44 1762.00,132.03 1763.00,132.63C1764.00,133.24 1765.00,133.84 1766.00,134.44C1767.00,135.05 1768.00,135.66 1769.00,136.26C1770.00,136.87 1771.00,137.49 1772.00,138.10C1773.00,138.72 1774.00,139.33 1775.00,139.95C1776.00,140.57 1777.00,141.19 1778.00,141.82C1779.00,142.44 1780.00,143.07 1781.00,143.69C1782.00,144.32 1783.00,144.95 1784.00,145.59C1785.00,146.22 1786.00,146.85 1787.00,147.49C1788.00,148.13 1789.00,148.77 1790.00,149.41C1791.00,150.05 1792.00,150.69 1793.00,151.34C1794.00,151.99 1795.00,152.63 1796.00,153.28C1797.00,153.93 1798.00,154.59 1799.00,155.24C1800.00,155.90 1801.00,156.55 1802.00,157.21C1803.00,157.87 1804.00,158.53 1805.00,159.19C1806.00,159.85 1807.00,160.52 1808.00,161.18C1809.00,161.85 1810.00,162.52 1811.00,163.19C1812.00,163.86 1813.00,164.53 1814.00,165.20C1815.00,165.88 1816.00,166.55 1817.00,167.23C1818.00,167.91 1819.00,168.59 1820.00,169.27C1821.00,169.95 1822.00,170.64 1823.00,171.32C1824.00,172.01 1825.00,172.69 1826.00,173.38C1827.00,174.07 1828.00,174.76 1829.00,175.45C1830.00,176.15 1831.00,176.84 1832.00,177.54C1833.00,178.23 1834.00,178.93 1835.00,179.63C1836.00,180.33 1837.00,181.03 1838.00,181.73C1839.00,182.43 1840.00,183.14 1841.00,183.84C1842.00,184.55 1843.00,185.25 1844.00,185.96C1845.00,186.67 1846.00,187.38 1847.00,188.09C1848.00,188.81 1849.00,189.52 1850.00,190.23C1851.00,190.95 1852.00,191.67 1853.00,192.38C1854.00,193.10 1855.00,193.82 1856.00,194.54C1857.00,195.26 1858.00,195.99 1859.00,196.71C1860.00,197.43 1861.00,198.16 1862.00,198.89C1863.00,199.61 1864.00,200.34 1865.00,201.07C1866.00,201.80 1867.00,202.53 1868.00,203.26C1869.00,203.99 1870.00,204.73 1871.00,205.46C1872.00,206.20 1873.00,206.93 1874.00,207.67C1875.00,208.41 1876.00,209.15 1877.00,209.88C1878.00,210.62 1879.00,211.37 1880.00,212.11C1881.00,212.85 1882.00,213.59 1883.00,214.34C1884.00,215.08 1885.00,215.83 1886.00,216.57C1887.00,217.32 1888.00,218.07 1889.00,218.82C1890.00,219.57 1891.00,220.32 1892.00,221.07C1893.00,221.82 1894.00,222.57 1895.00,223.33C1896.00,224.08 1897.00,224.83 1898.00,225.59C1898.33,225.84 1898.67,226.09 1899.00,226.34" stroke="#ff00ff" stroke-width="7" fill="none" stroke-linejoin="round"/>
<text font-family="Liberation Sans, Arial, Helvetica, sans-serif" font-weight="bold" font-size="65.8" transform="translate(430.41,1458.60) scale(0.962,1)">1000</text>
<text font-family="Liberation Sans, Arial, Helvetica, sans-serif" font-weight="bold" font-size="65.8" transform="translate(781.32,1458.60) scale(0.962,1)">2000</text>
<text font-family="Liberation Sans, Arial, Helvetica, sans-serif" font-weight="bold" font-size="65.8" transform="translate(1131.60,1458.60) scale(0.962,1)">3000</text>
<text font-family="Liberation Sans, Arial, Helvetica, sans-serif" font-weight="bold" font-size="65.8" transform="translate(1481.71,1458.60) scale(0.962,1)">4000</text>
<text font-family="Liberation Sans, Arial, Helvetica, sans-serif" font-weight="bold" font-size="65.8" transform="translate(1831.20,1458.60) scale(0.962,1)">5000</text>
<text font-family="Liberation Sans, Arial, Helvetica, sans-serif" font-weight="bold" font-size="65.8" transform="translate(122.55,1400.50) scale(0.962,1)">0.0</text>
<text font-family="Liberation Sans, Arial, Helvetica, sans-serif" font-weight="bold" font-size="65.8" transform="translate(122.55,1133.20) scale(0.962,1)">0.2</text>
<text font-family="Liberation Sans, Arial, Helvetica, sans-serif" font-weight="bold" font-size="65.8" transform="translate(120.33,865.90) scale(0.962,1)">0.4</text>
<text font-family="Liberation Sans, Arial, Helvetica, sans-serif" font-weight="bold" font-size="65.8" transform="translate(122.23,598.60) scale(0.962,1)">0.6</text>
<text font-family="Liberation Sans, Arial, Helvetica, sans-serif" font-weight="bold" font-size="65.8" transform="translate(121.91,331.30) scale(0.962,1)">0.8</text>
<text font-family="Liberation Sans, Arial, Helvetica, sans-serif" font-weight="bold" font-size="65.8" transform="translate(122.55,64.00) scale(0.962,1)">1.0</text>
<text font-family="Liberation Sans, Arial, Helvetica, sans-serif" font-weight="bold" font-size="96" transform="translate(688.60,1558.50) scale(0.99,1)">Wavelength (nm)</text>
<text font-family="Liberation Sans, Arial, Helvetica, sans-serif" font-weight="bold" font-size="95" transform="translate(91.9,989) rotate(-90) translate(-2.37,0) scale(0.998,1)">Absorptivity</text>
<rect x="273" y="898.3" width="564" height="427.7" fill="#fff" stroke="#3a3a3a" stroke-width="2.2"/><path d="M278.2,961.8H425" stroke="#ff00ff" stroke-width="7.2"/><circle cx="425" cy="961.8" r="3.6" fill="#ff00ff"/><text font-family="Liberation Sans, Arial, Helvetica, sans-serif" font-weight="bold" font-size="64.2" transform="translate(441.11,982.00) scale(0.975,1)">without t1, t2</text><path d="M278.2,1066.9H425" stroke="#00ffff" stroke-width="7.2"/><circle cx="425" cy="1066.9" r="3.6" fill="#00ffff"/><text font-family="Liberation Sans, Arial, Helvetica, sans-serif" font-weight="bold" font-size="64.2" transform="translate(441.11,1087.07) scale(0.975,1)">without t3, t4</text><path d="M278.2,1171.9H425" stroke="#0000ff" stroke-width="7.2"/><circle cx="425" cy="1171.9" r="3.6" fill="#0000ff"/><text font-family="Liberation Sans, Arial, Helvetica, sans-serif" font-weight="bold" font-size="64.2" transform="translate(441.11,1192.14) scale(0.975,1)">without t5, t6</text><path d="M278.2,1277.0H425" stroke="#ff0000" stroke-width="7.2"/><circle cx="425" cy="1277.0" r="3.6" fill="#ff0000"/><text font-family="Liberation Sans, Arial, Helvetica, sans-serif" font-weight="bold" font-size="64.2" transform="translate(441.11,1297.21) scale(0.975,1)">without t7, t8</text>
</svg>
</body></html>
